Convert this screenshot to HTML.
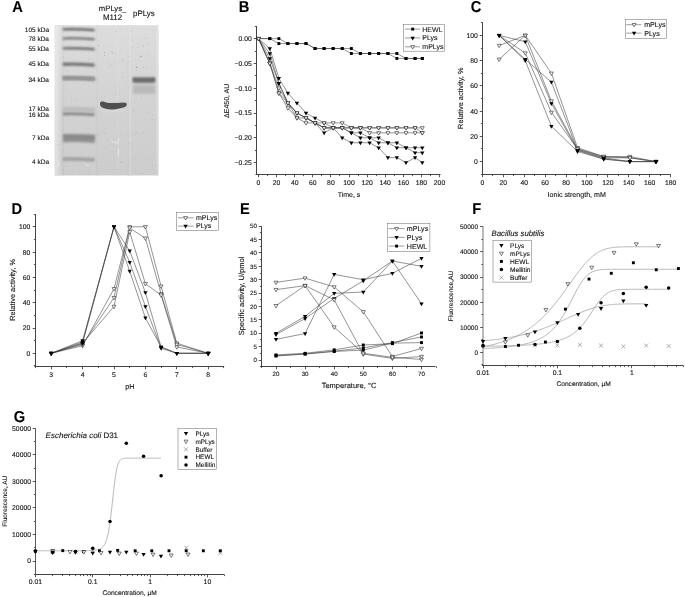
<!DOCTYPE html>
<html><head><meta charset="utf-8"><style>
html,body{margin:0;padding:0;background:#fff;}
svg{display:block;font-family:"Liberation Sans", sans-serif;will-change:transform;text-rendering:geometricPrecision;}
text{stroke:#111;stroke-width:0.1px;}
</style></head><body>
<svg width="685" height="597" viewBox="0 0 685 597">
<rect width="685" height="597" fill="#fff"/>
<defs><filter id="bl1" filterUnits="userSpaceOnUse" x="40" y="15" width="130" height="170"><feGaussianBlur stdDeviation="0.85"/></filter><filter id="bl2" filterUnits="userSpaceOnUse" x="40" y="15" width="130" height="170"><feGaussianBlur stdDeviation="1.3"/></filter><filter id="bl3" filterUnits="userSpaceOnUse" x="40" y="15" width="130" height="170"><feGaussianBlur stdDeviation="0.35"/></filter><filter id="bl4" filterUnits="userSpaceOnUse" x="40" y="15" width="130" height="170"><feGaussianBlur stdDeviation="0.55"/></filter><linearGradient id="gv" x1="0" y1="0" x2="0" y2="1"><stop offset="0" stop-color="#fff" stop-opacity="0.32"/><stop offset="0.5" stop-color="#fff" stop-opacity="0.12"/><stop offset="1" stop-color="#fff" stop-opacity="0"/></linearGradient></defs>
<rect x="54.8" y="25.3" width="103.5" height="150.2" fill="#cdcdcd"/>
<g filter="url(#bl3)">
<rect x="54.8" y="25.3" width="3.2" height="150.2" fill="#dddddd"/>
<rect x="58" y="25.3" width="2.5" height="150.2" fill="#d6d6d6"/>
<rect x="62.8" y="25.3" width="0.9" height="150.2" fill="#c4c4c4"/>
<rect x="66" y="25.3" width="0.6" height="150.2" fill="#cacaca"/>
<rect x="72" y="25.3" width="0.6" height="150.2" fill="#cbcbcb"/>
<rect x="80" y="25.3" width="0.6" height="150.2" fill="#cccccc"/>
<rect x="88" y="25.3" width="0.6" height="150.2" fill="#cacaca"/>
<rect x="96.5" y="25.3" width="1.2" height="150.2" fill="#c8c8c8"/>
<rect x="99" y="25.3" width="0.6" height="150.2" fill="#cccccc"/>
<rect x="117.5" y="25.3" width="0.8" height="150.2" fill="#d4d4d4"/>
<rect x="127.5" y="25.3" width="1.0" height="150.2" fill="#c9c9c9"/>
<rect x="129" y="25.3" width="2.0" height="150.2" fill="#d3d3d3"/>
<rect x="138" y="25.3" width="0.6" height="150.2" fill="#cdcdcd"/>
<rect x="156.3" y="25.3" width="2.0" height="150.2" fill="#d6d6d6"/>
</g>
<rect x="54.8" y="25.3" width="103.5" height="150.2" fill="url(#gv)"/>
<circle cx="88.87" cy="48.4" r="0.36" fill="#9a9a9a"/>
<circle cx="139.36" cy="39.98" r="0.35" fill="#b8b8b8"/>
<circle cx="77.79" cy="38.76" r="0.3" fill="#a4a4a4"/>
<circle cx="65.21" cy="89.04" r="0.41" fill="#9a9a9a"/>
<circle cx="152.17" cy="119.65" r="0.35" fill="#9a9a9a"/>
<circle cx="114.58" cy="84.91" r="0.44" fill="#9a9a9a"/>
<circle cx="112.5" cy="45.78" r="0.3" fill="#b8b8b8"/>
<circle cx="67.96" cy="71.81" r="0.4" fill="#a4a4a4"/>
<circle cx="66.46" cy="110.82" r="0.25" fill="#9a9a9a"/>
<circle cx="111.6" cy="35.32" r="0.21" fill="#a4a4a4"/>
<circle cx="106.39" cy="104.96" r="0.39" fill="#b0b0b0"/>
<circle cx="115.43" cy="93.3" r="0.27" fill="#a4a4a4"/>
<circle cx="126.95" cy="62.25" r="0.34" fill="#b8b8b8"/>
<circle cx="106.25" cy="77.01" r="0.31" fill="#b8b8b8"/>
<circle cx="155.49" cy="43.53" r="0.3" fill="#8c8c8c"/>
<circle cx="71.43" cy="98.61" r="0.21" fill="#9a9a9a"/>
<circle cx="133.6" cy="111.09" r="0.42" fill="#8c8c8c"/>
<circle cx="90.52" cy="78" r="0.32" fill="#b0b0b0"/>
<circle cx="62.98" cy="39.9" r="0.27" fill="#9a9a9a"/>
<circle cx="62.16" cy="130.17" r="0.36" fill="#b0b0b0"/>
<circle cx="84.89" cy="83.29" r="0.37" fill="#9a9a9a"/>
<circle cx="151.48" cy="78.79" r="0.35" fill="#b0b0b0"/>
<circle cx="61.98" cy="140.08" r="0.23" fill="#a4a4a4"/>
<circle cx="96.39" cy="162.15" r="0.32" fill="#a4a4a4"/>
<circle cx="101.59" cy="107.59" r="0.42" fill="#b0b0b0"/>
<circle cx="143.69" cy="67.35" r="0.3" fill="#8c8c8c"/>
<circle cx="125.3" cy="82.5" r="0.26" fill="#9a9a9a"/>
<circle cx="73.89" cy="60.45" r="0.26" fill="#b0b0b0"/>
<circle cx="140.36" cy="53.08" r="0.27" fill="#a4a4a4"/>
<circle cx="98.52" cy="80.83" r="0.34" fill="#a4a4a4"/>
<circle cx="126.09" cy="102.55" r="0.35" fill="#9a9a9a"/>
<circle cx="102.35" cy="155.34" r="0.44" fill="#b8b8b8"/>
<circle cx="95.83" cy="85.25" r="0.23" fill="#b0b0b0"/>
<circle cx="62.32" cy="36" r="0.25" fill="#a4a4a4"/>
<circle cx="67.16" cy="115.21" r="0.23" fill="#b8b8b8"/>
<circle cx="71.35" cy="41.07" r="0.29" fill="#9a9a9a"/>
<circle cx="63.14" cy="56.88" r="0.29" fill="#8c8c8c"/>
<circle cx="152.98" cy="115.44" r="0.32" fill="#9a9a9a"/>
<circle cx="142.17" cy="173.48" r="0.32" fill="#b0b0b0"/>
<circle cx="87.65" cy="47.4" r="0.39" fill="#8c8c8c"/>
<circle cx="104.58" cy="128.77" r="0.33" fill="#a4a4a4"/>
<circle cx="152.53" cy="104.45" r="0.24" fill="#b8b8b8"/>
<circle cx="148.79" cy="138.58" r="0.27" fill="#9a9a9a"/>
<circle cx="126.66" cy="64.78" r="0.29" fill="#a4a4a4"/>
<circle cx="92.1" cy="59.08" r="0.34" fill="#b8b8b8"/>
<circle cx="89.46" cy="59.12" r="0.4" fill="#a4a4a4"/>
<circle cx="137.82" cy="147.52" r="0.38" fill="#a4a4a4"/>
<circle cx="76.29" cy="99.18" r="0.38" fill="#9a9a9a"/>
<circle cx="136.2" cy="96.13" r="0.25" fill="#b8b8b8"/>
<circle cx="153.09" cy="92.41" r="0.43" fill="#8c8c8c"/>
<circle cx="152.93" cy="80.15" r="0.26" fill="#a4a4a4"/>
<circle cx="103.71" cy="76.15" r="0.32" fill="#b8b8b8"/>
<circle cx="141.3" cy="97.2" r="0.36" fill="#9a9a9a"/>
<circle cx="140.72" cy="43.81" r="0.3" fill="#a4a4a4"/>
<circle cx="104.52" cy="52.51" r="0.4" fill="#8c8c8c"/>
<circle cx="64.81" cy="166.51" r="0.38" fill="#b0b0b0"/>
<circle cx="96.74" cy="166.6" r="0.38" fill="#a4a4a4"/>
<circle cx="156.8" cy="30.09" r="0.35" fill="#b0b0b0"/>
<circle cx="137.86" cy="47.71" r="0.41" fill="#b0b0b0"/>
<circle cx="122.71" cy="78.04" r="0.34" fill="#a4a4a4"/>
<circle cx="58.17" cy="144.7" r="0.38" fill="#9a9a9a"/>
<circle cx="109.45" cy="164.64" r="0.31" fill="#a4a4a4"/>
<circle cx="139.85" cy="57.34" r="0.26" fill="#8c8c8c"/>
<circle cx="106.87" cy="139.41" r="0.28" fill="#b8b8b8"/>
<circle cx="98.53" cy="45.46" r="0.43" fill="#8c8c8c"/>
<circle cx="147.12" cy="124.38" r="0.4" fill="#b8b8b8"/>
<circle cx="98.69" cy="162.28" r="0.33" fill="#b8b8b8"/>
<circle cx="71.41" cy="101.82" r="0.42" fill="#a4a4a4"/>
<circle cx="117.77" cy="141.24" r="0.24" fill="#a4a4a4"/>
<circle cx="104.06" cy="133.69" r="0.34" fill="#8c8c8c"/>
<circle cx="125.26" cy="104.81" r="0.32" fill="#9a9a9a"/>
<circle cx="145.65" cy="34.44" r="0.25" fill="#9a9a9a"/>
<circle cx="134.38" cy="101.4" r="0.34" fill="#9a9a9a"/>
<circle cx="100.99" cy="116.96" r="0.33" fill="#b8b8b8"/>
<circle cx="76.24" cy="67.16" r="0.33" fill="#b0b0b0"/>
<circle cx="107.54" cy="62.78" r="0.33" fill="#8c8c8c"/>
<circle cx="149.66" cy="158.57" r="0.25" fill="#b0b0b0"/>
<circle cx="69.92" cy="44.06" r="0.31" fill="#9a9a9a"/>
<circle cx="124.12" cy="89.61" r="0.25" fill="#8c8c8c"/>
<circle cx="135.57" cy="159.21" r="0.24" fill="#8c8c8c"/>
<circle cx="70.51" cy="157.1" r="0.44" fill="#a4a4a4"/>
<circle cx="131.79" cy="39.98" r="0.42" fill="#a4a4a4"/>
<circle cx="156.47" cy="149.62" r="0.24" fill="#b0b0b0"/>
<circle cx="156.9" cy="85.97" r="0.31" fill="#8c8c8c"/>
<circle cx="88.33" cy="133.24" r="0.2" fill="#b8b8b8"/>
<circle cx="102.56" cy="130.42" r="0.3" fill="#b8b8b8"/>
<circle cx="119.33" cy="102.07" r="0.22" fill="#a4a4a4"/>
<circle cx="154.63" cy="41.56" r="0.27" fill="#9a9a9a"/>
<circle cx="147.95" cy="52.96" r="0.39" fill="#b0b0b0"/>
<circle cx="142.23" cy="126.38" r="0.44" fill="#b0b0b0"/>
<circle cx="106.04" cy="162.5" r="0.34" fill="#8c8c8c"/>
<circle cx="102.41" cy="34.54" r="0.37" fill="#b0b0b0"/>
<circle cx="151.16" cy="65.94" r="0.2" fill="#9a9a9a"/>
<circle cx="145.5" cy="38.44" r="0.41" fill="#9a9a9a"/>
<circle cx="113" cy="44.07" r="0.2" fill="#b8b8b8"/>
<circle cx="122.27" cy="161.94" r="0.36" fill="#9a9a9a"/>
<circle cx="128.88" cy="61.41" r="0.23" fill="#a4a4a4"/>
<circle cx="112.84" cy="52.9" r="0.43" fill="#8c8c8c"/>
<circle cx="129.13" cy="56.57" r="0.31" fill="#a4a4a4"/>
<circle cx="113.37" cy="145.35" r="0.45" fill="#9a9a9a"/>
<circle cx="97.93" cy="134.86" r="0.34" fill="#a4a4a4"/>
<circle cx="128.11" cy="62.48" r="0.31" fill="#b0b0b0"/>
<circle cx="136.72" cy="107.07" r="0.42" fill="#b8b8b8"/>
<circle cx="115.62" cy="57.95" r="0.26" fill="#a4a4a4"/>
<circle cx="147.35" cy="130.95" r="0.36" fill="#b0b0b0"/>
<circle cx="156.86" cy="171.81" r="0.41" fill="#9a9a9a"/>
<circle cx="101.28" cy="136.02" r="0.26" fill="#a4a4a4"/>
<circle cx="100.35" cy="124.79" r="0.3" fill="#b8b8b8"/>
<circle cx="137.57" cy="67.87" r="0.26" fill="#8c8c8c"/>
<circle cx="99.74" cy="53.52" r="0.27" fill="#9a9a9a"/>
<circle cx="112.93" cy="168.83" r="0.44" fill="#b8b8b8"/>
<circle cx="116.57" cy="31.12" r="0.42" fill="#a4a4a4"/>
<circle cx="118.57" cy="26.16" r="0.3" fill="#b0b0b0"/>
<circle cx="113.88" cy="123.42" r="0.26" fill="#9a9a9a"/>
<circle cx="102.5" cy="147.33" r="0.24" fill="#b8b8b8"/>
<circle cx="99.52" cy="29.34" r="0.28" fill="#a4a4a4"/>
<circle cx="102.11" cy="168.21" r="0.41" fill="#a4a4a4"/>
<circle cx="136.78" cy="132.33" r="0.42" fill="#b0b0b0"/>
<circle cx="143.24" cy="133.02" r="0.32" fill="#8c8c8c"/>
<circle cx="140.81" cy="121.52" r="0.21" fill="#b8b8b8"/>
<circle cx="134.95" cy="134.98" r="0.4" fill="#a4a4a4"/>
<circle cx="152.05" cy="137.8" r="0.34" fill="#9a9a9a"/>
<circle cx="147" cy="112.73" r="0.42" fill="#a4a4a4"/>
<circle cx="102.15" cy="32.22" r="0.36" fill="#9a9a9a"/>
<circle cx="119.79" cy="93.03" r="0.21" fill="#9a9a9a"/>
<circle cx="134.89" cy="127.08" r="0.32" fill="#9a9a9a"/>
<circle cx="124.65" cy="36.41" r="0.43" fill="#b8b8b8"/>
<circle cx="102.56" cy="104.11" r="0.39" fill="#b0b0b0"/>
<circle cx="112.26" cy="37.06" r="0.27" fill="#a4a4a4"/>
<circle cx="110.96" cy="122.51" r="0.32" fill="#b0b0b0"/>
<circle cx="101.64" cy="161.2" r="0.27" fill="#9a9a9a"/>
<circle cx="134.33" cy="121.45" r="0.22" fill="#a4a4a4"/>
<circle cx="117.07" cy="122.75" r="0.37" fill="#b8b8b8"/>
<circle cx="131.35" cy="27.85" r="0.22" fill="#8c8c8c"/>
<circle cx="155.84" cy="40.78" r="0.25" fill="#b0b0b0"/>
<circle cx="114.6" cy="102.71" r="0.32" fill="#b0b0b0"/>
<circle cx="143.41" cy="173.51" r="0.34" fill="#8c8c8c"/>
<circle cx="156.18" cy="165.03" r="0.2" fill="#b0b0b0"/>
<circle cx="101.63" cy="101.23" r="0.45" fill="#8c8c8c"/>
<circle cx="120.4" cy="162.11" r="0.43" fill="#9a9a9a"/>
<circle cx="132.18" cy="47.05" r="0.33" fill="#8c8c8c"/>
<circle cx="105.02" cy="147.8" r="0.33" fill="#9a9a9a"/>
<circle cx="139.55" cy="60.36" r="0.42" fill="#b0b0b0"/>
<circle cx="120.84" cy="49.62" r="0.44" fill="#b0b0b0"/>
<circle cx="121.53" cy="133.99" r="0.3" fill="#b0b0b0"/>
<circle cx="116.12" cy="150.77" r="0.2" fill="#8c8c8c"/>
<circle cx="147.77" cy="43.83" r="0.43" fill="#9a9a9a"/>
<circle cx="151.54" cy="69.04" r="0.29" fill="#b0b0b0"/>
<circle cx="120.6" cy="155.19" r="0.22" fill="#b0b0b0"/>
<circle cx="142.72" cy="152.86" r="0.27" fill="#9a9a9a"/>
<circle cx="147.5" cy="68.42" r="0.43" fill="#a4a4a4"/>
<circle cx="155.75" cy="90.78" r="0.28" fill="#8c8c8c"/>
<circle cx="144.5" cy="89.52" r="0.21" fill="#b0b0b0"/>
<circle cx="152.26" cy="165.69" r="0.34" fill="#9a9a9a"/>
<circle cx="99.99" cy="134.75" r="0.31" fill="#a4a4a4"/>
<circle cx="135.99" cy="68.5" r="0.21" fill="#b8b8b8"/>
<circle cx="104.7" cy="96.12" r="0.29" fill="#8c8c8c"/>
<circle cx="112.47" cy="135.7" r="0.36" fill="#b0b0b0"/>
<circle cx="136.69" cy="70.67" r="0.34" fill="#b0b0b0"/>
<circle cx="104.24" cy="121.52" r="0.22" fill="#b8b8b8"/>
<circle cx="151.81" cy="99.82" r="0.26" fill="#8c8c8c"/>
<circle cx="157.29" cy="92.82" r="0.23" fill="#a4a4a4"/>
<circle cx="111.77" cy="51.94" r="0.34" fill="#8c8c8c"/>
<circle cx="111.47" cy="64.37" r="0.34" fill="#9a9a9a"/>
<circle cx="142.35" cy="87.3" r="0.3" fill="#b8b8b8"/>
<circle cx="109.71" cy="66.13" r="0.39" fill="#b0b0b0"/>
<circle cx="113.79" cy="169.7" r="0.23" fill="#b8b8b8"/>
<circle cx="129.02" cy="143.36" r="0.41" fill="#9a9a9a"/>
<circle cx="113.4" cy="62.9" r="0.3" fill="#b0b0b0"/>
<circle cx="123.13" cy="72.33" r="0.4" fill="#9a9a9a"/>
<circle cx="141" cy="56.5" r="0.6" fill="#808080"/>
<circle cx="136.5" cy="67" r="0.5" fill="#808080"/>
<circle cx="123" cy="60" r="0.4" fill="#808080"/>
<circle cx="104.5" cy="55.5" r="0.4" fill="#808080"/>
<circle cx="131" cy="31" r="0.4" fill="#808080"/>
<circle cx="143.5" cy="46" r="0.4" fill="#808080"/>
<g filter="url(#bl3)" stroke="#e6e6e6" stroke-width="0.9" fill="none" stroke-linecap="round"><path d="M111,140.5 L114,143 L116.5,141.5 L118,144"/><path d="M119,137.5 L118.2,142"/><path d="M118.5,149 L118.3,156"/><path d="M85,163 L87,166 L89,165"/><path d="M58,160 L58.5,166"/></g>
<g filter="url(#bl1)">
<path d="M62.8,29.3 Q78,28.8 94.6,30.1" stroke="#5e5e5e" stroke-width="2.2" fill="none"/>
<path d="M62.8,38.4 Q78,37.9 94.6,39.2" stroke="#686868" stroke-width="2.0" fill="none"/>
<path d="M62.8,48.4 Q78,47.9 94.6,49.2" stroke="#6e6e6e" stroke-width="2.4" fill="none"/>
<path d="M62.8,64.3 Q78,63.8 94.6,65.1" stroke="#737373" stroke-width="3.4" fill="none"/>
<path d="M62.8,78.1 Q78,77.6 94.6,78.9" stroke="#808080" stroke-width="3.6" fill="none"/>
<path d="M62.8,113.8 Q78,113.3 94.6,114.6" stroke="#8c8c8c" stroke-width="3.4" fill="none"/>
<path d="M62.8,159.1 Q78,158.6 94.6,159.9" stroke="#a0a0a0" stroke-width="3.6" fill="none"/>
</g>
<g filter="url(#bl2)">
<path d="M63,109.4 Q78,108.8 95,109.8" stroke="#bcbcbc" stroke-width="4.5" fill="none"/>
<path d="M63,138.2 Q78,137.6 95,138.8" stroke="#909090" stroke-width="8.2" fill="none"/>
<path d="M63,137.0 Q78,136.4 95,137.6" stroke="#888" stroke-width="3" fill="none"/>
<path d="M63,78.6 Q78,78 95,79" stroke="#9a9a9a" stroke-width="3" fill="none"/>
<path d="M133,89.3 Q144,89.8 155,89.3" stroke="#bababa" stroke-width="8.5" fill="none"/>
<path d="M133,80.0 Q144,80.4 155,80.0" stroke="#929292" stroke-width="6" fill="none"/>
<path d="M102,104.8 C108,106.4 118,106.2 124.5,104.8" stroke="#a8a8a8" stroke-width="4.5" fill="none"/>
<path d="M103,109.5 C108,111.2 116,111.2 124,108.8" stroke="#dedede" stroke-width="1.6" fill="none"/>
</g>
<g filter="url(#bl1)">
<path d="M132.8,79.8 Q144,80.2 155,79.8" stroke="#666" stroke-width="3.4" fill="none"/>
</g>
<g filter="url(#bl4)">
<path d="M100.0,103.6 C100.0,101.4 102.0,100.9 104.5,101.9 C107.5,103.0 112,103.3 117,103.0 C121,102.8 124.5,102.4 126.0,102.9 C127.2,103.6 127.0,105.8 125.3,106.7 C121.8,108.0 117,109.2 112,109.4 C107.5,109.5 104,108.6 101.8,107.3 C100.6,106.5 100.0,105.2 100.0,103.6 Z" fill="#505050"/>
</g>
<text x="49" y="32.1" font-size="6.5" text-anchor="end" font-weight="normal" font-style="normal" fill="#111">105 kDa</text>
<text x="49" y="41.2" font-size="6.5" text-anchor="end" font-weight="normal" font-style="normal" fill="#111">78 kDa</text>
<text x="49" y="51.3" font-size="6.5" text-anchor="end" font-weight="normal" font-style="normal" fill="#111">55 kDa</text>
<text x="49" y="66.4" font-size="6.5" text-anchor="end" font-weight="normal" font-style="normal" fill="#111">45 kDa</text>
<text x="49" y="81.8" font-size="6.5" text-anchor="end" font-weight="normal" font-style="normal" fill="#111">34 kDa</text>
<text x="49" y="111" font-size="6.5" text-anchor="end" font-weight="normal" font-style="normal" fill="#111">17 kDa</text>
<text x="49" y="116.7" font-size="6.5" text-anchor="end" font-weight="normal" font-style="normal" fill="#111">16 kDa</text>
<text x="49" y="140.2" font-size="6.5" text-anchor="end" font-weight="normal" font-style="normal" fill="#111">7 kDa</text>
<text x="49" y="163.8" font-size="6.5" text-anchor="end" font-weight="normal" font-style="normal" fill="#111">4 kDa</text>
<text x="112.6" y="10.7" font-size="7.7" text-anchor="middle" font-weight="normal" font-style="normal" fill="#111">mPLys_</text>
<text x="112.5" y="19.6" font-size="7.9" text-anchor="middle" font-weight="normal" font-style="normal" fill="#111">M112</text>
<text x="143.9" y="15.8" font-size="7.9" text-anchor="middle" font-weight="normal" font-style="normal" fill="#111">pPLys</text>
<text transform="translate(12.13 12) scale(0.93 1)" font-size="15.8" font-weight="bold" fill="#000">A</text>
<text transform="translate(238.72 12) scale(0.93 1)" font-size="15.8" font-weight="bold" fill="#000">B</text>
<text transform="translate(470.8 12) scale(0.93 1)" font-size="15.8" font-weight="bold" fill="#000">C</text>
<text transform="translate(11.42 213.6) scale(0.93 1)" font-size="15.8" font-weight="bold" fill="#000">D</text>
<text transform="translate(240.02 213.6) scale(0.93 1)" font-size="15.8" font-weight="bold" fill="#000">E</text>
<text transform="translate(472.22 213.6) scale(0.93 1)" font-size="15.8" font-weight="bold" fill="#000">F</text>
<text transform="translate(13.7 422.2) scale(0.93 1)" font-size="15.8" font-weight="bold" fill="#000">G</text>
<line x1="256.5" y1="26" x2="256.5" y2="175" stroke="#444" stroke-width="1.0"/>
<line x1="255.5" y1="174.5" x2="440.5" y2="174.5" stroke="#444" stroke-width="1.0"/>
<line x1="253.7" y1="38.5" x2="256.5" y2="38.5" stroke="#444" stroke-width="0.9"/>
<text x="251.8" y="41.05" font-size="6.8" text-anchor="end" font-weight="normal" font-style="normal" fill="#111">0.00</text>
<line x1="253.7" y1="63.5" x2="256.5" y2="63.5" stroke="#444" stroke-width="0.9"/>
<text x="251.8" y="65.85" font-size="6.8" text-anchor="end" font-weight="normal" font-style="normal" fill="#111">&#8722;0.05</text>
<line x1="253.7" y1="88.5" x2="256.5" y2="88.5" stroke="#444" stroke-width="0.9"/>
<text x="251.8" y="90.65" font-size="6.8" text-anchor="end" font-weight="normal" font-style="normal" fill="#111">&#8722;0.10</text>
<line x1="253.7" y1="113.5" x2="256.5" y2="113.5" stroke="#444" stroke-width="0.9"/>
<text x="251.8" y="115.45" font-size="6.8" text-anchor="end" font-weight="normal" font-style="normal" fill="#111">&#8722;0.15</text>
<line x1="253.7" y1="137.5" x2="256.5" y2="137.5" stroke="#444" stroke-width="0.9"/>
<text x="251.8" y="140.25" font-size="6.8" text-anchor="end" font-weight="normal" font-style="normal" fill="#111">&#8722;0.20</text>
<line x1="253.7" y1="162.5" x2="256.5" y2="162.5" stroke="#444" stroke-width="0.9"/>
<text x="251.8" y="165.05" font-size="6.8" text-anchor="end" font-weight="normal" font-style="normal" fill="#111">&#8722;0.25</text>
<line x1="254.9" y1="26.5" x2="256.5" y2="26.5" stroke="#444" stroke-width="0.9"/>
<line x1="254.9" y1="51.5" x2="256.5" y2="51.5" stroke="#444" stroke-width="0.9"/>
<line x1="254.9" y1="75.5" x2="256.5" y2="75.5" stroke="#444" stroke-width="0.9"/>
<line x1="254.9" y1="100.5" x2="256.5" y2="100.5" stroke="#444" stroke-width="0.9"/>
<line x1="254.9" y1="125.5" x2="256.5" y2="125.5" stroke="#444" stroke-width="0.9"/>
<line x1="254.9" y1="150.5" x2="256.5" y2="150.5" stroke="#444" stroke-width="0.9"/>
<line x1="258.5" y1="174.5" x2="258.5" y2="177.3" stroke="#444" stroke-width="0.9"/>
<text x="258.5" y="185.2" font-size="6.8" text-anchor="middle" font-weight="normal" font-style="normal" fill="#111">0</text>
<line x1="276.5" y1="174.5" x2="276.5" y2="177.3" stroke="#444" stroke-width="0.9"/>
<text x="276.6" y="185.2" font-size="6.8" text-anchor="middle" font-weight="normal" font-style="normal" fill="#111">20</text>
<line x1="294.5" y1="174.5" x2="294.5" y2="177.3" stroke="#444" stroke-width="0.9"/>
<text x="294.7" y="185.2" font-size="6.8" text-anchor="middle" font-weight="normal" font-style="normal" fill="#111">40</text>
<line x1="312.5" y1="174.5" x2="312.5" y2="177.3" stroke="#444" stroke-width="0.9"/>
<text x="312.8" y="185.2" font-size="6.8" text-anchor="middle" font-weight="normal" font-style="normal" fill="#111">60</text>
<line x1="330.5" y1="174.5" x2="330.5" y2="177.3" stroke="#444" stroke-width="0.9"/>
<text x="330.9" y="185.2" font-size="6.8" text-anchor="middle" font-weight="normal" font-style="normal" fill="#111">80</text>
<line x1="349.5" y1="174.5" x2="349.5" y2="177.3" stroke="#444" stroke-width="0.9"/>
<text x="349" y="185.2" font-size="6.8" text-anchor="middle" font-weight="normal" font-style="normal" fill="#111">100</text>
<line x1="367.5" y1="174.5" x2="367.5" y2="177.3" stroke="#444" stroke-width="0.9"/>
<text x="367.1" y="185.2" font-size="6.8" text-anchor="middle" font-weight="normal" font-style="normal" fill="#111">120</text>
<line x1="385.5" y1="174.5" x2="385.5" y2="177.3" stroke="#444" stroke-width="0.9"/>
<text x="385.2" y="185.2" font-size="6.8" text-anchor="middle" font-weight="normal" font-style="normal" fill="#111">140</text>
<line x1="403.5" y1="174.5" x2="403.5" y2="177.3" stroke="#444" stroke-width="0.9"/>
<text x="403.3" y="185.2" font-size="6.8" text-anchor="middle" font-weight="normal" font-style="normal" fill="#111">160</text>
<line x1="421.5" y1="174.5" x2="421.5" y2="177.3" stroke="#444" stroke-width="0.9"/>
<text x="421.4" y="185.2" font-size="6.8" text-anchor="middle" font-weight="normal" font-style="normal" fill="#111">180</text>
<line x1="439.5" y1="174.5" x2="439.5" y2="177.3" stroke="#444" stroke-width="0.9"/>
<text x="439.5" y="185.2" font-size="6.8" text-anchor="middle" font-weight="normal" font-style="normal" fill="#111">200</text>
<line x1="267.5" y1="174.5" x2="267.5" y2="176.1" stroke="#444" stroke-width="0.9"/>
<line x1="285.5" y1="174.5" x2="285.5" y2="176.1" stroke="#444" stroke-width="0.9"/>
<line x1="303.5" y1="174.5" x2="303.5" y2="176.1" stroke="#444" stroke-width="0.9"/>
<line x1="321.5" y1="174.5" x2="321.5" y2="176.1" stroke="#444" stroke-width="0.9"/>
<line x1="339.5" y1="174.5" x2="339.5" y2="176.1" stroke="#444" stroke-width="0.9"/>
<line x1="358.5" y1="174.5" x2="358.5" y2="176.1" stroke="#444" stroke-width="0.9"/>
<line x1="376.5" y1="174.5" x2="376.5" y2="176.1" stroke="#444" stroke-width="0.9"/>
<line x1="394.5" y1="174.5" x2="394.5" y2="176.1" stroke="#444" stroke-width="0.9"/>
<line x1="412.5" y1="174.5" x2="412.5" y2="176.1" stroke="#444" stroke-width="0.9"/>
<line x1="430.5" y1="174.5" x2="430.5" y2="176.1" stroke="#444" stroke-width="0.9"/>
<text x="349" y="196.6" font-size="7" text-anchor="middle" font-weight="normal" font-style="normal" fill="#111">Time, s</text>
<text x="229.2" y="100.8" font-size="7" text-anchor="middle" font-weight="normal" font-style="normal" fill="#111" transform="rotate(-90 229.2 100.8)">&#916;E450, AU</text>
<polyline points="258.5,38.6 269.81,38.6 278.86,38.6 287.91,43.56 296.96,43.56 306.01,43.56 315.06,48.52 324.11,48.52 333.16,48.52 342.21,48.52 351.35,48.52 360.4,53.48 369.63,53.48 378.68,53.48 387.91,53.48 396.87,53.48 406.01,58.44 415.06,58.44 422.31,58.44" fill="none" stroke="#3a3a3a" stroke-width="0.55"/>
<polyline points="258.5,38.6 269.81,38.6 278.86,43.56 287.91,43.56 296.96,43.56 306.01,43.56 315.06,48.52 324.11,48.52 333.16,48.52 342.21,48.52 351.35,53.48 360.4,53.48 369.63,53.48 378.68,53.48 387.91,53.48 396.87,58.44 406.01,58.44 415.06,58.44 422.31,58.44" fill="none" stroke="#3a3a3a" stroke-width="0.55"/>
<polyline points="258.5,38.6 269.81,63.4 278.86,93.16 287.91,103.08 296.96,113 306.01,117.96 315.06,122.92 324.11,122.92 333.16,122.92 342.21,122.92 351.35,127.88 360.4,127.88 369.63,127.88 378.68,127.88 387.91,127.88 396.87,127.88 406.01,127.88 415.06,127.88 422.31,127.88" fill="none" stroke="#3a3a3a" stroke-width="0.55"/>
<polyline points="258.5,38.6 269.81,63.4 278.86,93.16 287.91,108.04 296.96,117.96 306.01,122.92 315.06,122.92 324.11,127.88 333.16,127.88 342.21,127.88 351.35,127.88 360.4,127.88 369.63,127.88 378.68,127.88 387.91,127.88 396.87,127.88 406.01,127.88 415.06,127.88 422.31,132.84" fill="none" stroke="#3a3a3a" stroke-width="0.55"/>
<polyline points="258.5,38.6 269.81,63.4 278.86,88.2 287.91,103.08 296.96,117.96 306.01,117.96 315.06,122.92 324.11,127.88 333.16,127.88 342.21,127.88 351.35,127.88 360.4,127.88 369.63,132.84 378.68,132.84 387.91,132.84 396.87,132.84 406.01,132.84 415.06,132.84 422.31,132.84" fill="none" stroke="#3a3a3a" stroke-width="0.55"/>
<polyline points="258.5,38.6 269.81,48.52 278.86,78.28 287.91,93.16 296.96,103.08 306.01,113 315.06,117.96 324.11,122.92 333.16,127.88 342.21,127.88 351.35,132.84 360.4,132.84 369.63,137.8 378.68,137.8 387.91,142.76 396.87,142.76 406.01,147.72 415.06,147.72 422.31,147.72" fill="none" stroke="#3a3a3a" stroke-width="0.55"/>
<polyline points="258.5,38.6 269.81,53.48 278.86,83.24 287.91,103.08 296.96,113 306.01,117.96 315.06,122.92 324.11,132.84 333.16,127.88 342.21,137.8 351.35,142.76 360.4,142.76 369.63,142.76 378.68,147.72 387.91,157.64 396.87,157.64 406.01,162.6 415.06,157.64 422.31,162.6" fill="none" stroke="#3a3a3a" stroke-width="0.55"/>
<polyline points="258.5,38.6 269.81,58.44 278.86,83.24 287.91,103.08 296.96,113 306.01,117.96 315.06,122.92 324.11,127.88 333.16,127.88 342.21,127.88 351.35,132.84 360.4,137.8 369.63,137.8 378.68,142.76 387.91,142.76 396.87,147.72 406.01,147.72 415.06,152.68 422.31,152.68" fill="none" stroke="#3a3a3a" stroke-width="0.55"/>
<rect x="257.05" y="37.15" width="2.9" height="2.9" fill="#000"/>
<rect x="268.36" y="37.15" width="2.9" height="2.9" fill="#000"/>
<rect x="277.41" y="37.15" width="2.9" height="2.9" fill="#000"/>
<rect x="286.46" y="42.11" width="2.9" height="2.9" fill="#000"/>
<rect x="295.51" y="42.11" width="2.9" height="2.9" fill="#000"/>
<rect x="304.56" y="42.11" width="2.9" height="2.9" fill="#000"/>
<rect x="313.61" y="47.07" width="2.9" height="2.9" fill="#000"/>
<rect x="322.66" y="47.07" width="2.9" height="2.9" fill="#000"/>
<rect x="331.71" y="47.07" width="2.9" height="2.9" fill="#000"/>
<rect x="340.76" y="47.07" width="2.9" height="2.9" fill="#000"/>
<rect x="349.9" y="47.07" width="2.9" height="2.9" fill="#000"/>
<rect x="358.95" y="52.03" width="2.9" height="2.9" fill="#000"/>
<rect x="368.18" y="52.03" width="2.9" height="2.9" fill="#000"/>
<rect x="377.23" y="52.03" width="2.9" height="2.9" fill="#000"/>
<rect x="386.46" y="52.03" width="2.9" height="2.9" fill="#000"/>
<rect x="395.42" y="52.03" width="2.9" height="2.9" fill="#000"/>
<rect x="404.56" y="56.99" width="2.9" height="2.9" fill="#000"/>
<rect x="413.62" y="56.99" width="2.9" height="2.9" fill="#000"/>
<rect x="420.86" y="56.99" width="2.9" height="2.9" fill="#000"/>
<rect x="257.05" y="37.15" width="2.9" height="2.9" fill="#000"/>
<rect x="268.36" y="37.15" width="2.9" height="2.9" fill="#000"/>
<rect x="277.41" y="42.11" width="2.9" height="2.9" fill="#000"/>
<rect x="286.46" y="42.11" width="2.9" height="2.9" fill="#000"/>
<rect x="295.51" y="42.11" width="2.9" height="2.9" fill="#000"/>
<rect x="304.56" y="42.11" width="2.9" height="2.9" fill="#000"/>
<rect x="313.61" y="47.07" width="2.9" height="2.9" fill="#000"/>
<rect x="322.66" y="47.07" width="2.9" height="2.9" fill="#000"/>
<rect x="331.71" y="47.07" width="2.9" height="2.9" fill="#000"/>
<rect x="340.76" y="47.07" width="2.9" height="2.9" fill="#000"/>
<rect x="349.9" y="52.03" width="2.9" height="2.9" fill="#000"/>
<rect x="358.95" y="52.03" width="2.9" height="2.9" fill="#000"/>
<rect x="368.18" y="52.03" width="2.9" height="2.9" fill="#000"/>
<rect x="377.23" y="52.03" width="2.9" height="2.9" fill="#000"/>
<rect x="386.46" y="52.03" width="2.9" height="2.9" fill="#000"/>
<rect x="395.42" y="56.99" width="2.9" height="2.9" fill="#000"/>
<rect x="404.56" y="56.99" width="2.9" height="2.9" fill="#000"/>
<rect x="413.62" y="56.99" width="2.9" height="2.9" fill="#000"/>
<rect x="420.86" y="56.99" width="2.9" height="2.9" fill="#000"/>
<path d="M256.35,37.31H260.65L258.5,41.07Z" fill="#000"/>
<path d="M267.66,47.23H271.96L269.81,50.99Z" fill="#000"/>
<path d="M276.71,76.99H281.01L278.86,80.75Z" fill="#000"/>
<path d="M285.76,91.87H290.06L287.91,95.63Z" fill="#000"/>
<path d="M294.81,101.79H299.11L296.96,105.55Z" fill="#000"/>
<path d="M303.86,111.71H308.16L306.01,115.47Z" fill="#000"/>
<path d="M312.91,116.67H317.21L315.06,120.43Z" fill="#000"/>
<path d="M321.96,121.63H326.26L324.11,125.39Z" fill="#000"/>
<path d="M331.01,126.59H335.31L333.16,130.35Z" fill="#000"/>
<path d="M340.06,126.59H344.36L342.21,130.35Z" fill="#000"/>
<path d="M349.2,131.55H353.5L351.35,135.31Z" fill="#000"/>
<path d="M358.25,131.55H362.55L360.4,135.31Z" fill="#000"/>
<path d="M367.48,136.51H371.78L369.63,140.27Z" fill="#000"/>
<path d="M376.53,136.51H380.83L378.68,140.27Z" fill="#000"/>
<path d="M385.76,141.47H390.06L387.91,145.23Z" fill="#000"/>
<path d="M394.72,141.47H399.02L396.87,145.23Z" fill="#000"/>
<path d="M403.87,146.43H408.16L406.01,150.19Z" fill="#000"/>
<path d="M412.92,146.43H417.21L415.06,150.19Z" fill="#000"/>
<path d="M420.16,146.43H424.45L422.31,150.19Z" fill="#000"/>
<path d="M256.35,37.31H260.65L258.5,41.07Z" fill="#000"/>
<path d="M267.66,52.19H271.96L269.81,55.95Z" fill="#000"/>
<path d="M276.71,81.95H281.01L278.86,85.71Z" fill="#000"/>
<path d="M285.76,101.79H290.06L287.91,105.55Z" fill="#000"/>
<path d="M294.81,111.71H299.11L296.96,115.47Z" fill="#000"/>
<path d="M303.86,116.67H308.16L306.01,120.43Z" fill="#000"/>
<path d="M312.91,121.63H317.21L315.06,125.39Z" fill="#000"/>
<path d="M321.96,131.55H326.26L324.11,135.31Z" fill="#000"/>
<path d="M331.01,126.59H335.31L333.16,130.35Z" fill="#000"/>
<path d="M340.06,136.51H344.36L342.21,140.27Z" fill="#000"/>
<path d="M349.2,141.47H353.5L351.35,145.23Z" fill="#000"/>
<path d="M358.25,141.47H362.55L360.4,145.23Z" fill="#000"/>
<path d="M367.48,141.47H371.78L369.63,145.23Z" fill="#000"/>
<path d="M376.53,146.43H380.83L378.68,150.19Z" fill="#000"/>
<path d="M385.76,156.35H390.06L387.91,160.11Z" fill="#000"/>
<path d="M394.72,156.35H399.02L396.87,160.11Z" fill="#000"/>
<path d="M403.87,161.31H408.16L406.01,165.07Z" fill="#000"/>
<path d="M412.92,156.35H417.21L415.06,160.11Z" fill="#000"/>
<path d="M420.16,161.31H424.45L422.31,165.07Z" fill="#000"/>
<path d="M256.35,37.31H260.65L258.5,41.07Z" fill="#000"/>
<path d="M267.66,57.15H271.96L269.81,60.91Z" fill="#000"/>
<path d="M276.71,81.95H281.01L278.86,85.71Z" fill="#000"/>
<path d="M285.76,101.79H290.06L287.91,105.55Z" fill="#000"/>
<path d="M294.81,111.71H299.11L296.96,115.47Z" fill="#000"/>
<path d="M303.86,116.67H308.16L306.01,120.43Z" fill="#000"/>
<path d="M312.91,121.63H317.21L315.06,125.39Z" fill="#000"/>
<path d="M321.96,126.59H326.26L324.11,130.35Z" fill="#000"/>
<path d="M331.01,126.59H335.31L333.16,130.35Z" fill="#000"/>
<path d="M340.06,126.59H344.36L342.21,130.35Z" fill="#000"/>
<path d="M349.2,131.55H353.5L351.35,135.31Z" fill="#000"/>
<path d="M358.25,136.51H362.55L360.4,140.27Z" fill="#000"/>
<path d="M367.48,136.51H371.78L369.63,140.27Z" fill="#000"/>
<path d="M376.53,141.47H380.83L378.68,145.23Z" fill="#000"/>
<path d="M385.76,141.47H390.06L387.91,145.23Z" fill="#000"/>
<path d="M394.72,146.43H399.02L396.87,150.19Z" fill="#000"/>
<path d="M403.87,146.43H408.16L406.01,150.19Z" fill="#000"/>
<path d="M412.92,151.39H417.21L415.06,155.15Z" fill="#000"/>
<path d="M420.16,151.39H424.45L422.31,155.15Z" fill="#000"/>
<path d="M256.55,37.39H260.45L258.5,40.8Z" fill="#fff" stroke="#111" stroke-width="0.55"/>
<path d="M267.86,62.19H271.76L269.81,65.6Z" fill="#fff" stroke="#111" stroke-width="0.55"/>
<path d="M276.91,91.95H280.81L278.86,95.36Z" fill="#fff" stroke="#111" stroke-width="0.55"/>
<path d="M285.96,101.87H289.86L287.91,105.28Z" fill="#fff" stroke="#111" stroke-width="0.55"/>
<path d="M295.01,111.79H298.91L296.96,115.2Z" fill="#fff" stroke="#111" stroke-width="0.55"/>
<path d="M304.06,116.75H307.96L306.01,120.16Z" fill="#fff" stroke="#111" stroke-width="0.55"/>
<path d="M313.11,121.71H317.01L315.06,125.12Z" fill="#fff" stroke="#111" stroke-width="0.55"/>
<path d="M322.16,121.71H326.06L324.11,125.12Z" fill="#fff" stroke="#111" stroke-width="0.55"/>
<path d="M331.21,121.71H335.11L333.16,125.12Z" fill="#fff" stroke="#111" stroke-width="0.55"/>
<path d="M340.26,121.71H344.16L342.21,125.12Z" fill="#fff" stroke="#111" stroke-width="0.55"/>
<path d="M349.4,126.67H353.3L351.35,130.08Z" fill="#fff" stroke="#111" stroke-width="0.55"/>
<path d="M358.45,126.67H362.35L360.4,130.08Z" fill="#fff" stroke="#111" stroke-width="0.55"/>
<path d="M367.68,126.67H371.58L369.63,130.08Z" fill="#fff" stroke="#111" stroke-width="0.55"/>
<path d="M376.73,126.67H380.63L378.68,130.08Z" fill="#fff" stroke="#111" stroke-width="0.55"/>
<path d="M385.96,126.67H389.86L387.91,130.08Z" fill="#fff" stroke="#111" stroke-width="0.55"/>
<path d="M394.92,126.67H398.82L396.87,130.08Z" fill="#fff" stroke="#111" stroke-width="0.55"/>
<path d="M404.06,126.67H407.96L406.01,130.08Z" fill="#fff" stroke="#111" stroke-width="0.55"/>
<path d="M413.12,126.67H417.01L415.06,130.08Z" fill="#fff" stroke="#111" stroke-width="0.55"/>
<path d="M420.36,126.67H424.25L422.31,130.08Z" fill="#fff" stroke="#111" stroke-width="0.55"/>
<path d="M256.55,37.39H260.45L258.5,40.8Z" fill="#fff" stroke="#111" stroke-width="0.55"/>
<path d="M267.86,62.19H271.76L269.81,65.6Z" fill="#fff" stroke="#111" stroke-width="0.55"/>
<path d="M276.91,91.95H280.81L278.86,95.36Z" fill="#fff" stroke="#111" stroke-width="0.55"/>
<path d="M285.96,106.83H289.86L287.91,110.24Z" fill="#fff" stroke="#111" stroke-width="0.55"/>
<path d="M295.01,116.75H298.91L296.96,120.16Z" fill="#fff" stroke="#111" stroke-width="0.55"/>
<path d="M304.06,121.71H307.96L306.01,125.12Z" fill="#fff" stroke="#111" stroke-width="0.55"/>
<path d="M313.11,121.71H317.01L315.06,125.12Z" fill="#fff" stroke="#111" stroke-width="0.55"/>
<path d="M322.16,126.67H326.06L324.11,130.08Z" fill="#fff" stroke="#111" stroke-width="0.55"/>
<path d="M331.21,126.67H335.11L333.16,130.08Z" fill="#fff" stroke="#111" stroke-width="0.55"/>
<path d="M340.26,126.67H344.16L342.21,130.08Z" fill="#fff" stroke="#111" stroke-width="0.55"/>
<path d="M349.4,126.67H353.3L351.35,130.08Z" fill="#fff" stroke="#111" stroke-width="0.55"/>
<path d="M358.45,126.67H362.35L360.4,130.08Z" fill="#fff" stroke="#111" stroke-width="0.55"/>
<path d="M367.68,126.67H371.58L369.63,130.08Z" fill="#fff" stroke="#111" stroke-width="0.55"/>
<path d="M376.73,126.67H380.63L378.68,130.08Z" fill="#fff" stroke="#111" stroke-width="0.55"/>
<path d="M385.96,126.67H389.86L387.91,130.08Z" fill="#fff" stroke="#111" stroke-width="0.55"/>
<path d="M394.92,126.67H398.82L396.87,130.08Z" fill="#fff" stroke="#111" stroke-width="0.55"/>
<path d="M404.06,126.67H407.96L406.01,130.08Z" fill="#fff" stroke="#111" stroke-width="0.55"/>
<path d="M413.12,126.67H417.01L415.06,130.08Z" fill="#fff" stroke="#111" stroke-width="0.55"/>
<path d="M420.36,131.63H424.25L422.31,135.04Z" fill="#fff" stroke="#111" stroke-width="0.55"/>
<path d="M256.55,37.39H260.45L258.5,40.8Z" fill="#fff" stroke="#111" stroke-width="0.55"/>
<path d="M267.86,62.19H271.76L269.81,65.6Z" fill="#fff" stroke="#111" stroke-width="0.55"/>
<path d="M276.91,86.99H280.81L278.86,90.4Z" fill="#fff" stroke="#111" stroke-width="0.55"/>
<path d="M285.96,101.87H289.86L287.91,105.28Z" fill="#fff" stroke="#111" stroke-width="0.55"/>
<path d="M295.01,116.75H298.91L296.96,120.16Z" fill="#fff" stroke="#111" stroke-width="0.55"/>
<path d="M304.06,116.75H307.96L306.01,120.16Z" fill="#fff" stroke="#111" stroke-width="0.55"/>
<path d="M313.11,121.71H317.01L315.06,125.12Z" fill="#fff" stroke="#111" stroke-width="0.55"/>
<path d="M322.16,126.67H326.06L324.11,130.08Z" fill="#fff" stroke="#111" stroke-width="0.55"/>
<path d="M331.21,126.67H335.11L333.16,130.08Z" fill="#fff" stroke="#111" stroke-width="0.55"/>
<path d="M340.26,126.67H344.16L342.21,130.08Z" fill="#fff" stroke="#111" stroke-width="0.55"/>
<path d="M349.4,126.67H353.3L351.35,130.08Z" fill="#fff" stroke="#111" stroke-width="0.55"/>
<path d="M358.45,126.67H362.35L360.4,130.08Z" fill="#fff" stroke="#111" stroke-width="0.55"/>
<path d="M367.68,131.63H371.58L369.63,135.04Z" fill="#fff" stroke="#111" stroke-width="0.55"/>
<path d="M376.73,131.63H380.63L378.68,135.04Z" fill="#fff" stroke="#111" stroke-width="0.55"/>
<path d="M385.96,131.63H389.86L387.91,135.04Z" fill="#fff" stroke="#111" stroke-width="0.55"/>
<path d="M394.92,131.63H398.82L396.87,135.04Z" fill="#fff" stroke="#111" stroke-width="0.55"/>
<path d="M404.06,131.63H407.96L406.01,135.04Z" fill="#fff" stroke="#111" stroke-width="0.55"/>
<path d="M413.12,131.63H417.01L415.06,135.04Z" fill="#fff" stroke="#111" stroke-width="0.55"/>
<path d="M420.36,131.63H424.25L422.31,135.04Z" fill="#fff" stroke="#111" stroke-width="0.55"/>
<rect x="403.6" y="24.4" width="41.1" height="26.8" fill="#fff" stroke="#666" stroke-width="0.5"/>
<line x1="405" y1="29.1" x2="420.2" y2="29.1" stroke="#3a3a3a" stroke-width="0.5"/>
<rect x="411.25" y="27.65" width="2.9" height="2.9" fill="#000"/>
<text x="422.3" y="31.6" font-size="7" text-anchor="start" font-weight="normal" font-style="normal" fill="#111">HEWL</text>
<line x1="405" y1="37.95" x2="420.2" y2="37.95" stroke="#3a3a3a" stroke-width="0.5"/>
<path d="M410.55,36.66H414.85L412.7,40.42Z" fill="#000"/>
<text x="422.3" y="40.45" font-size="7" text-anchor="start" font-weight="normal" font-style="normal" fill="#111">PLys</text>
<line x1="405" y1="46.8" x2="420.2" y2="46.8" stroke="#3a3a3a" stroke-width="0.5"/>
<path d="M410.75,45.59H414.65L412.7,49Z" fill="#fff" stroke="#111" stroke-width="0.55"/>
<text x="422.3" y="49.3" font-size="7" text-anchor="start" font-weight="normal" font-style="normal" fill="#111">mPLys</text>
<line x1="482.5" y1="22.3" x2="482.5" y2="175" stroke="#444" stroke-width="1.0"/>
<line x1="481.5" y1="174.5" x2="670.7" y2="174.5" stroke="#444" stroke-width="1.0"/>
<line x1="479.7" y1="161.5" x2="482.5" y2="161.5" stroke="#444" stroke-width="0.9"/>
<text x="477.8" y="164.05" font-size="6.8" text-anchor="end" font-weight="normal" font-style="normal" fill="#111">0</text>
<line x1="479.7" y1="136.5" x2="482.5" y2="136.5" stroke="#444" stroke-width="0.9"/>
<text x="477.8" y="138.81" font-size="6.8" text-anchor="end" font-weight="normal" font-style="normal" fill="#111">20</text>
<line x1="479.7" y1="111.5" x2="482.5" y2="111.5" stroke="#444" stroke-width="0.9"/>
<text x="477.8" y="113.57" font-size="6.8" text-anchor="end" font-weight="normal" font-style="normal" fill="#111">40</text>
<line x1="479.7" y1="85.5" x2="482.5" y2="85.5" stroke="#444" stroke-width="0.9"/>
<text x="477.8" y="88.33" font-size="6.8" text-anchor="end" font-weight="normal" font-style="normal" fill="#111">60</text>
<line x1="479.7" y1="60.5" x2="482.5" y2="60.5" stroke="#444" stroke-width="0.9"/>
<text x="477.8" y="63.09" font-size="6.8" text-anchor="end" font-weight="normal" font-style="normal" fill="#111">80</text>
<line x1="479.7" y1="35.5" x2="482.5" y2="35.5" stroke="#444" stroke-width="0.9"/>
<text x="477.8" y="37.85" font-size="6.8" text-anchor="end" font-weight="normal" font-style="normal" fill="#111">100</text>
<line x1="480.9" y1="174.5" x2="482.5" y2="174.5" stroke="#444" stroke-width="0.9"/>
<line x1="480.9" y1="148.5" x2="482.5" y2="148.5" stroke="#444" stroke-width="0.9"/>
<line x1="480.9" y1="123.5" x2="482.5" y2="123.5" stroke="#444" stroke-width="0.9"/>
<line x1="480.9" y1="98.5" x2="482.5" y2="98.5" stroke="#444" stroke-width="0.9"/>
<line x1="480.9" y1="73.5" x2="482.5" y2="73.5" stroke="#444" stroke-width="0.9"/>
<line x1="480.9" y1="48.5" x2="482.5" y2="48.5" stroke="#444" stroke-width="0.9"/>
<line x1="480.9" y1="22.5" x2="482.5" y2="22.5" stroke="#444" stroke-width="0.9"/>
<line x1="482.5" y1="174.5" x2="482.5" y2="177.3" stroke="#444" stroke-width="0.9"/>
<text x="482.4" y="184.9" font-size="6.8" text-anchor="middle" font-weight="normal" font-style="normal" fill="#111">0</text>
<line x1="503.5" y1="174.5" x2="503.5" y2="177.3" stroke="#444" stroke-width="0.9"/>
<text x="503.31" y="184.9" font-size="6.8" text-anchor="middle" font-weight="normal" font-style="normal" fill="#111">20</text>
<line x1="524.5" y1="174.5" x2="524.5" y2="177.3" stroke="#444" stroke-width="0.9"/>
<text x="524.22" y="184.9" font-size="6.8" text-anchor="middle" font-weight="normal" font-style="normal" fill="#111">40</text>
<line x1="545.5" y1="174.5" x2="545.5" y2="177.3" stroke="#444" stroke-width="0.9"/>
<text x="545.13" y="184.9" font-size="6.8" text-anchor="middle" font-weight="normal" font-style="normal" fill="#111">60</text>
<line x1="566.5" y1="174.5" x2="566.5" y2="177.3" stroke="#444" stroke-width="0.9"/>
<text x="566.04" y="184.9" font-size="6.8" text-anchor="middle" font-weight="normal" font-style="normal" fill="#111">80</text>
<line x1="586.5" y1="174.5" x2="586.5" y2="177.3" stroke="#444" stroke-width="0.9"/>
<text x="586.96" y="184.9" font-size="6.8" text-anchor="middle" font-weight="normal" font-style="normal" fill="#111">100</text>
<line x1="607.5" y1="174.5" x2="607.5" y2="177.3" stroke="#444" stroke-width="0.9"/>
<text x="607.87" y="184.9" font-size="6.8" text-anchor="middle" font-weight="normal" font-style="normal" fill="#111">120</text>
<line x1="628.5" y1="174.5" x2="628.5" y2="177.3" stroke="#444" stroke-width="0.9"/>
<text x="628.78" y="184.9" font-size="6.8" text-anchor="middle" font-weight="normal" font-style="normal" fill="#111">140</text>
<line x1="649.5" y1="174.5" x2="649.5" y2="177.3" stroke="#444" stroke-width="0.9"/>
<text x="649.69" y="184.9" font-size="6.8" text-anchor="middle" font-weight="normal" font-style="normal" fill="#111">160</text>
<line x1="670.5" y1="174.5" x2="670.5" y2="177.3" stroke="#444" stroke-width="0.9"/>
<text x="670.6" y="184.9" font-size="6.8" text-anchor="middle" font-weight="normal" font-style="normal" fill="#111">180</text>
<line x1="492.5" y1="174.5" x2="492.5" y2="176.1" stroke="#444" stroke-width="0.9"/>
<line x1="513.5" y1="174.5" x2="513.5" y2="176.1" stroke="#444" stroke-width="0.9"/>
<line x1="534.5" y1="174.5" x2="534.5" y2="176.1" stroke="#444" stroke-width="0.9"/>
<line x1="555.5" y1="174.5" x2="555.5" y2="176.1" stroke="#444" stroke-width="0.9"/>
<line x1="576.5" y1="174.5" x2="576.5" y2="176.1" stroke="#444" stroke-width="0.9"/>
<line x1="597.5" y1="174.5" x2="597.5" y2="176.1" stroke="#444" stroke-width="0.9"/>
<line x1="618.5" y1="174.5" x2="618.5" y2="176.1" stroke="#444" stroke-width="0.9"/>
<line x1="639.5" y1="174.5" x2="639.5" y2="176.1" stroke="#444" stroke-width="0.9"/>
<line x1="660.5" y1="174.5" x2="660.5" y2="176.1" stroke="#444" stroke-width="0.9"/>
<text x="576.7" y="196.9" font-size="7.1" text-anchor="middle" font-weight="normal" font-style="normal" fill="#111">Ionic strength, mM</text>
<text x="462.6" y="98.2" font-size="7.4" text-anchor="middle" font-weight="normal" font-style="normal" fill="#111" transform="rotate(-90 462.6 98.2)">Relative activity, %</text>
<polyline points="499.13,59.38 525.27,35.4 551.41,73.26 577.55,147.72 603.68,156.55 629.82,156.55 655.96,161.6" fill="none" stroke="#3a3a3a" stroke-width="0.55"/>
<polyline points="499.13,45.5 525.27,35.4 551.41,101.02 577.55,148.98 603.68,157.81 629.82,157.81 655.96,161.6" fill="none" stroke="#3a3a3a" stroke-width="0.55"/>
<polyline points="499.13,35.4 525.27,53.07 551.41,112.38 577.55,148.98 603.68,156.55 629.82,157.81 655.96,161.6" fill="none" stroke="#3a3a3a" stroke-width="0.55"/>
<polyline points="499.13,35.4 525.27,41.71 551.41,103.55 577.55,150.24 603.68,157.81 629.82,161.6 655.96,161.6" fill="none" stroke="#3a3a3a" stroke-width="0.55"/>
<polyline points="499.13,35.4 525.27,59.38 551.41,82.09 577.55,150.24 603.68,159.08 629.82,161.6 655.96,161.6" fill="none" stroke="#3a3a3a" stroke-width="0.55"/>
<polyline points="499.13,35.4 525.27,60.64 551.41,126.26 577.55,151.5 603.68,159.08 629.82,161.6 655.96,161.6" fill="none" stroke="#3a3a3a" stroke-width="0.55"/>
<path d="M497.18,58.17H501.08L499.13,61.58Z" fill="#fff" stroke="#111" stroke-width="0.55"/>
<path d="M523.32,34.19H527.22L525.27,37.6Z" fill="#fff" stroke="#111" stroke-width="0.55"/>
<path d="M549.46,72.05H553.36L551.41,75.46Z" fill="#fff" stroke="#111" stroke-width="0.55"/>
<path d="M575.6,146.51H579.5L577.55,149.92Z" fill="#fff" stroke="#111" stroke-width="0.55"/>
<path d="M601.73,155.34H605.63L603.68,158.76Z" fill="#fff" stroke="#111" stroke-width="0.55"/>
<path d="M627.87,155.34H631.77L629.82,158.76Z" fill="#fff" stroke="#111" stroke-width="0.55"/>
<path d="M654.01,160.39H657.91L655.96,163.8Z" fill="#fff" stroke="#111" stroke-width="0.55"/>
<path d="M497.18,44.29H501.08L499.13,47.7Z" fill="#fff" stroke="#111" stroke-width="0.55"/>
<path d="M523.32,34.19H527.22L525.27,37.6Z" fill="#fff" stroke="#111" stroke-width="0.55"/>
<path d="M549.46,99.81H553.36L551.41,103.23Z" fill="#fff" stroke="#111" stroke-width="0.55"/>
<path d="M575.6,147.77H579.5L577.55,151.18Z" fill="#fff" stroke="#111" stroke-width="0.55"/>
<path d="M601.73,156.6H605.63L603.68,160.02Z" fill="#fff" stroke="#111" stroke-width="0.55"/>
<path d="M627.87,156.6H631.77L629.82,160.02Z" fill="#fff" stroke="#111" stroke-width="0.55"/>
<path d="M654.01,160.39H657.91L655.96,163.8Z" fill="#fff" stroke="#111" stroke-width="0.55"/>
<path d="M497.18,34.19H501.08L499.13,37.6Z" fill="#fff" stroke="#111" stroke-width="0.55"/>
<path d="M523.32,51.86H527.22L525.27,55.27Z" fill="#fff" stroke="#111" stroke-width="0.55"/>
<path d="M549.46,111.17H553.36L551.41,114.59Z" fill="#fff" stroke="#111" stroke-width="0.55"/>
<path d="M575.6,147.77H579.5L577.55,151.18Z" fill="#fff" stroke="#111" stroke-width="0.55"/>
<path d="M601.73,155.34H605.63L603.68,158.76Z" fill="#fff" stroke="#111" stroke-width="0.55"/>
<path d="M627.87,156.6H631.77L629.82,160.02Z" fill="#fff" stroke="#111" stroke-width="0.55"/>
<path d="M654.01,160.39H657.91L655.96,163.8Z" fill="#fff" stroke="#111" stroke-width="0.55"/>
<path d="M496.98,34.11H501.28L499.13,37.87Z" fill="#000"/>
<path d="M523.12,40.42H527.42L525.27,44.18Z" fill="#000"/>
<path d="M549.26,102.26H553.56L551.41,106.02Z" fill="#000"/>
<path d="M575.4,148.95H579.7L577.55,152.71Z" fill="#000"/>
<path d="M601.53,156.52H605.83L603.68,160.29Z" fill="#000"/>
<path d="M627.67,160.31H631.97L629.82,164.07Z" fill="#000"/>
<path d="M653.81,160.31H658.11L655.96,164.07Z" fill="#000"/>
<path d="M496.98,34.11H501.28L499.13,37.87Z" fill="#000"/>
<path d="M523.12,58.09H527.42L525.27,61.85Z" fill="#000"/>
<path d="M549.26,80.8H553.56L551.41,84.57Z" fill="#000"/>
<path d="M575.4,148.95H579.7L577.55,152.71Z" fill="#000"/>
<path d="M601.53,157.79H605.83L603.68,161.55Z" fill="#000"/>
<path d="M627.67,160.31H631.97L629.82,164.07Z" fill="#000"/>
<path d="M653.81,160.31H658.11L655.96,164.07Z" fill="#000"/>
<path d="M496.98,34.11H501.28L499.13,37.87Z" fill="#000"/>
<path d="M523.12,59.35H527.42L525.27,63.11Z" fill="#000"/>
<path d="M549.26,124.97H553.56L551.41,128.74Z" fill="#000"/>
<path d="M575.4,150.21H579.7L577.55,153.98Z" fill="#000"/>
<path d="M601.53,157.79H605.83L603.68,161.55Z" fill="#000"/>
<path d="M627.67,160.31H631.97L629.82,164.07Z" fill="#000"/>
<path d="M653.81,160.31H658.11L655.96,164.07Z" fill="#000"/>
<rect x="625.4" y="19.3" width="41.3" height="19" fill="#fff" stroke="#666" stroke-width="0.5"/>
<line x1="626.3" y1="24.7" x2="641.5" y2="24.7" stroke="#3a3a3a" stroke-width="0.5"/>
<path d="M632.15,23.49H636.05L634.1,26.9Z" fill="#fff" stroke="#111" stroke-width="0.55"/>
<text x="644.2" y="27.2" font-size="7.1" text-anchor="start" font-weight="normal" font-style="normal" fill="#111">mPLys</text>
<line x1="626.3" y1="33.1" x2="641.5" y2="33.1" stroke="#3a3a3a" stroke-width="0.5"/>
<path d="M631.95,31.81H636.25L634.1,35.57Z" fill="#000"/>
<text x="644.2" y="35.6" font-size="7.1" text-anchor="start" font-weight="normal" font-style="normal" fill="#111">PLys</text>
<line x1="35.5" y1="214.1" x2="35.5" y2="367" stroke="#444" stroke-width="1.0"/>
<line x1="34.5" y1="366.5" x2="224.2" y2="366.5" stroke="#444" stroke-width="1.0"/>
<line x1="32.7" y1="353.5" x2="35.5" y2="353.5" stroke="#444" stroke-width="0.9"/>
<text x="30.3" y="355.75" font-size="6.8" text-anchor="end" font-weight="normal" font-style="normal" fill="#111">0</text>
<line x1="32.7" y1="328.5" x2="35.5" y2="328.5" stroke="#444" stroke-width="0.9"/>
<text x="30.3" y="330.45" font-size="6.8" text-anchor="end" font-weight="normal" font-style="normal" fill="#111">20</text>
<line x1="32.7" y1="302.5" x2="35.5" y2="302.5" stroke="#444" stroke-width="0.9"/>
<text x="30.3" y="305.15" font-size="6.8" text-anchor="end" font-weight="normal" font-style="normal" fill="#111">40</text>
<line x1="32.7" y1="277.5" x2="35.5" y2="277.5" stroke="#444" stroke-width="0.9"/>
<text x="30.3" y="279.85" font-size="6.8" text-anchor="end" font-weight="normal" font-style="normal" fill="#111">60</text>
<line x1="32.7" y1="252.5" x2="35.5" y2="252.5" stroke="#444" stroke-width="0.9"/>
<text x="30.3" y="254.55" font-size="6.8" text-anchor="end" font-weight="normal" font-style="normal" fill="#111">80</text>
<line x1="32.7" y1="226.5" x2="35.5" y2="226.5" stroke="#444" stroke-width="0.9"/>
<text x="30.3" y="229.25" font-size="6.8" text-anchor="end" font-weight="normal" font-style="normal" fill="#111">100</text>
<line x1="33.9" y1="365.5" x2="35.5" y2="365.5" stroke="#444" stroke-width="0.9"/>
<line x1="33.9" y1="340.5" x2="35.5" y2="340.5" stroke="#444" stroke-width="0.9"/>
<line x1="33.9" y1="315.5" x2="35.5" y2="315.5" stroke="#444" stroke-width="0.9"/>
<line x1="33.9" y1="290.5" x2="35.5" y2="290.5" stroke="#444" stroke-width="0.9"/>
<line x1="33.9" y1="264.5" x2="35.5" y2="264.5" stroke="#444" stroke-width="0.9"/>
<line x1="33.9" y1="239.5" x2="35.5" y2="239.5" stroke="#444" stroke-width="0.9"/>
<line x1="33.9" y1="214.5" x2="35.5" y2="214.5" stroke="#444" stroke-width="0.9"/>
<line x1="51.5" y1="366.5" x2="51.5" y2="369.3" stroke="#444" stroke-width="0.9"/>
<text x="51.2" y="376.7" font-size="6.8" text-anchor="middle" font-weight="normal" font-style="normal" fill="#111">3</text>
<line x1="82.5" y1="366.5" x2="82.5" y2="369.3" stroke="#444" stroke-width="0.9"/>
<text x="82.6" y="376.7" font-size="6.8" text-anchor="middle" font-weight="normal" font-style="normal" fill="#111">4</text>
<line x1="114.5" y1="366.5" x2="114.5" y2="369.3" stroke="#444" stroke-width="0.9"/>
<text x="114" y="376.7" font-size="6.8" text-anchor="middle" font-weight="normal" font-style="normal" fill="#111">5</text>
<line x1="145.5" y1="366.5" x2="145.5" y2="369.3" stroke="#444" stroke-width="0.9"/>
<text x="145.4" y="376.7" font-size="6.8" text-anchor="middle" font-weight="normal" font-style="normal" fill="#111">6</text>
<line x1="176.5" y1="366.5" x2="176.5" y2="369.3" stroke="#444" stroke-width="0.9"/>
<text x="176.8" y="376.7" font-size="6.8" text-anchor="middle" font-weight="normal" font-style="normal" fill="#111">7</text>
<line x1="208.5" y1="366.5" x2="208.5" y2="369.3" stroke="#444" stroke-width="0.9"/>
<text x="208.2" y="376.7" font-size="6.8" text-anchor="middle" font-weight="normal" font-style="normal" fill="#111">8</text>
<line x1="35.5" y1="366.5" x2="35.5" y2="368.1" stroke="#444" stroke-width="0.9"/>
<line x1="66.5" y1="366.5" x2="66.5" y2="368.1" stroke="#444" stroke-width="0.9"/>
<line x1="98.5" y1="366.5" x2="98.5" y2="368.1" stroke="#444" stroke-width="0.9"/>
<line x1="129.5" y1="366.5" x2="129.5" y2="368.1" stroke="#444" stroke-width="0.9"/>
<line x1="161.5" y1="366.5" x2="161.5" y2="368.1" stroke="#444" stroke-width="0.9"/>
<line x1="192.5" y1="366.5" x2="192.5" y2="368.1" stroke="#444" stroke-width="0.9"/>
<line x1="223.5" y1="366.5" x2="223.5" y2="368.1" stroke="#444" stroke-width="0.9"/>
<text x="129.8" y="388.7" font-size="7.3" text-anchor="middle" font-weight="normal" font-style="normal" fill="#111">pH</text>
<text x="15.1" y="289.9" font-size="7.45" text-anchor="middle" font-weight="normal" font-style="normal" fill="#111" transform="rotate(-90 15.1 289.9)">Relative activity, %</text>
<polyline points="51.2,353.3 82.6,345.71 114,288.79 129.7,226.8 145.4,226.8 161.1,286.25 176.8,343.18 208.2,353.3" fill="none" stroke="#3a3a3a" stroke-width="0.55"/>
<polyline points="51.2,353.3 82.6,344.44 114,297.64 129.7,228.06 145.4,238.19 161.1,293.85 176.8,344.44 208.2,353.3" fill="none" stroke="#3a3a3a" stroke-width="0.55"/>
<polyline points="51.2,353.3 82.6,343.18 114,306.5 129.7,231.86 145.4,283.73 161.1,295.11 176.8,346.98 208.2,353.3" fill="none" stroke="#3a3a3a" stroke-width="0.55"/>
<polyline points="51.2,353.3 82.6,341.92 114,226.8 129.7,250.84 145.4,292.58 161.1,346.98 176.8,353.3 208.2,353.3" fill="none" stroke="#3a3a3a" stroke-width="0.55"/>
<polyline points="51.2,353.3 82.6,343.18 114,226.8 129.7,262.22 145.4,306.5 161.1,348.24 176.8,353.3 208.2,353.3" fill="none" stroke="#3a3a3a" stroke-width="0.55"/>
<polyline points="51.2,353.3 82.6,340.65 114,226.8 129.7,271.08 145.4,317.88 161.1,346.98 176.8,353.3 208.2,353.3" fill="none" stroke="#3a3a3a" stroke-width="0.55"/>
<path d="M49.25,352.09H53.15L51.2,355.5Z" fill="#fff" stroke="#111" stroke-width="0.55"/>
<path d="M80.65,344.5H84.55L82.6,347.91Z" fill="#fff" stroke="#111" stroke-width="0.55"/>
<path d="M112.05,287.58H115.95L114,290.99Z" fill="#fff" stroke="#111" stroke-width="0.55"/>
<path d="M127.75,225.59H131.65L129.7,229Z" fill="#fff" stroke="#111" stroke-width="0.55"/>
<path d="M143.45,225.59H147.35L145.4,229Z" fill="#fff" stroke="#111" stroke-width="0.55"/>
<path d="M159.15,285.05H163.05L161.1,288.46Z" fill="#fff" stroke="#111" stroke-width="0.55"/>
<path d="M174.85,341.97H178.75L176.8,345.38Z" fill="#fff" stroke="#111" stroke-width="0.55"/>
<path d="M206.25,352.09H210.15L208.2,355.5Z" fill="#fff" stroke="#111" stroke-width="0.55"/>
<path d="M49.25,352.09H53.15L51.2,355.5Z" fill="#fff" stroke="#111" stroke-width="0.55"/>
<path d="M80.65,343.24H84.55L82.6,346.65Z" fill="#fff" stroke="#111" stroke-width="0.55"/>
<path d="M112.05,296.43H115.95L114,299.84Z" fill="#fff" stroke="#111" stroke-width="0.55"/>
<path d="M127.75,226.86H131.65L129.7,230.27Z" fill="#fff" stroke="#111" stroke-width="0.55"/>
<path d="M143.45,236.98H147.35L145.4,240.39Z" fill="#fff" stroke="#111" stroke-width="0.55"/>
<path d="M159.15,292.64H163.05L161.1,296.05Z" fill="#fff" stroke="#111" stroke-width="0.55"/>
<path d="M174.85,343.24H178.75L176.8,346.65Z" fill="#fff" stroke="#111" stroke-width="0.55"/>
<path d="M206.25,352.09H210.15L208.2,355.5Z" fill="#fff" stroke="#111" stroke-width="0.55"/>
<path d="M49.25,352.09H53.15L51.2,355.5Z" fill="#fff" stroke="#111" stroke-width="0.55"/>
<path d="M80.65,341.97H84.55L82.6,345.38Z" fill="#fff" stroke="#111" stroke-width="0.55"/>
<path d="M112.05,305.29H115.95L114,308.7Z" fill="#fff" stroke="#111" stroke-width="0.55"/>
<path d="M127.75,230.65H131.65L129.7,234.06Z" fill="#fff" stroke="#111" stroke-width="0.55"/>
<path d="M143.45,282.52H147.35L145.4,285.93Z" fill="#fff" stroke="#111" stroke-width="0.55"/>
<path d="M159.15,293.9H163.05L161.1,297.31Z" fill="#fff" stroke="#111" stroke-width="0.55"/>
<path d="M174.85,345.77H178.75L176.8,349.18Z" fill="#fff" stroke="#111" stroke-width="0.55"/>
<path d="M206.25,352.09H210.15L208.2,355.5Z" fill="#fff" stroke="#111" stroke-width="0.55"/>
<path d="M49.05,352.01H53.35L51.2,355.77Z" fill="#000"/>
<path d="M80.45,340.62H84.75L82.6,344.39Z" fill="#000"/>
<path d="M111.85,225.51H116.15L114,229.27Z" fill="#000"/>
<path d="M127.55,249.55H131.85L129.7,253.31Z" fill="#000"/>
<path d="M143.25,291.29H147.55L145.4,295.05Z" fill="#000"/>
<path d="M158.95,345.69H163.25L161.1,349.45Z" fill="#000"/>
<path d="M174.65,352.01H178.95L176.8,355.77Z" fill="#000"/>
<path d="M206.05,352.01H210.35L208.2,355.77Z" fill="#000"/>
<path d="M49.05,352.01H53.35L51.2,355.77Z" fill="#000"/>
<path d="M80.45,341.89H84.75L82.6,345.65Z" fill="#000"/>
<path d="M111.85,225.51H116.15L114,229.27Z" fill="#000"/>
<path d="M127.55,260.93H131.85L129.7,264.69Z" fill="#000"/>
<path d="M143.25,305.2H147.55L145.4,308.97Z" fill="#000"/>
<path d="M158.95,346.95H163.25L161.1,350.71Z" fill="#000"/>
<path d="M174.65,352.01H178.95L176.8,355.77Z" fill="#000"/>
<path d="M206.05,352.01H210.35L208.2,355.77Z" fill="#000"/>
<path d="M49.05,352.01H53.35L51.2,355.77Z" fill="#000"/>
<path d="M80.45,339.36H84.75L82.6,343.12Z" fill="#000"/>
<path d="M111.85,225.51H116.15L114,229.27Z" fill="#000"/>
<path d="M127.55,269.79H131.85L129.7,273.55Z" fill="#000"/>
<path d="M143.25,316.59H147.55L145.4,320.35Z" fill="#000"/>
<path d="M158.95,345.69H163.25L161.1,349.45Z" fill="#000"/>
<path d="M174.65,352.01H178.95L176.8,355.77Z" fill="#000"/>
<path d="M206.05,352.01H210.35L208.2,355.77Z" fill="#000"/>
<rect x="176.3" y="212.3" width="42.2" height="18.3" fill="#fff" stroke="#666" stroke-width="0.5"/>
<line x1="177.8" y1="217.8" x2="193.7" y2="217.8" stroke="#3a3a3a" stroke-width="0.5"/>
<path d="M183.65,216.59H187.55L185.6,220Z" fill="#fff" stroke="#111" stroke-width="0.55"/>
<text x="196" y="220.1" font-size="7" text-anchor="start" font-weight="normal" font-style="normal" fill="#111">mPLys</text>
<line x1="177.8" y1="226.1" x2="193.7" y2="226.1" stroke="#3a3a3a" stroke-width="0.5"/>
<path d="M183.45,224.81H187.75L185.6,228.57Z" fill="#000"/>
<text x="196" y="228.4" font-size="7" text-anchor="start" font-weight="normal" font-style="normal" fill="#111">PLys</text>
<line x1="261.5" y1="226.2" x2="261.5" y2="367" stroke="#444" stroke-width="1.0"/>
<line x1="260.5" y1="366.5" x2="435.6" y2="366.5" stroke="#444" stroke-width="1.0"/>
<line x1="258.7" y1="360.5" x2="261.5" y2="360.5" stroke="#444" stroke-width="0.9"/>
<text x="256.9" y="362.23" font-size="6.2" text-anchor="end" font-weight="normal" font-style="normal" fill="#111">0</text>
<line x1="258.7" y1="346.5" x2="261.5" y2="346.5" stroke="#444" stroke-width="0.9"/>
<text x="256.9" y="348.85" font-size="6.2" text-anchor="end" font-weight="normal" font-style="normal" fill="#111">5</text>
<line x1="258.7" y1="333.5" x2="261.5" y2="333.5" stroke="#444" stroke-width="0.9"/>
<text x="256.9" y="335.47" font-size="6.2" text-anchor="end" font-weight="normal" font-style="normal" fill="#111">10</text>
<line x1="258.7" y1="319.5" x2="261.5" y2="319.5" stroke="#444" stroke-width="0.9"/>
<text x="256.9" y="322.09" font-size="6.2" text-anchor="end" font-weight="normal" font-style="normal" fill="#111">15</text>
<line x1="258.7" y1="306.5" x2="261.5" y2="306.5" stroke="#444" stroke-width="0.9"/>
<text x="256.9" y="308.71" font-size="6.2" text-anchor="end" font-weight="normal" font-style="normal" fill="#111">20</text>
<line x1="258.7" y1="293.5" x2="261.5" y2="293.5" stroke="#444" stroke-width="0.9"/>
<text x="256.9" y="295.33" font-size="6.2" text-anchor="end" font-weight="normal" font-style="normal" fill="#111">25</text>
<line x1="258.7" y1="279.5" x2="261.5" y2="279.5" stroke="#444" stroke-width="0.9"/>
<text x="256.9" y="281.95" font-size="6.2" text-anchor="end" font-weight="normal" font-style="normal" fill="#111">30</text>
<line x1="258.7" y1="266.5" x2="261.5" y2="266.5" stroke="#444" stroke-width="0.9"/>
<text x="256.9" y="268.57" font-size="6.2" text-anchor="end" font-weight="normal" font-style="normal" fill="#111">35</text>
<line x1="258.7" y1="252.5" x2="261.5" y2="252.5" stroke="#444" stroke-width="0.9"/>
<text x="256.9" y="255.19" font-size="6.2" text-anchor="end" font-weight="normal" font-style="normal" fill="#111">40</text>
<line x1="258.7" y1="239.5" x2="261.5" y2="239.5" stroke="#444" stroke-width="0.9"/>
<text x="256.9" y="241.81" font-size="6.2" text-anchor="end" font-weight="normal" font-style="normal" fill="#111">45</text>
<line x1="258.7" y1="226.5" x2="261.5" y2="226.5" stroke="#444" stroke-width="0.9"/>
<text x="256.9" y="228.43" font-size="6.2" text-anchor="end" font-weight="normal" font-style="normal" fill="#111">50</text>
<line x1="259.9" y1="366.5" x2="261.5" y2="366.5" stroke="#444" stroke-width="0.9"/>
<line x1="259.9" y1="353.5" x2="261.5" y2="353.5" stroke="#444" stroke-width="0.9"/>
<line x1="259.9" y1="339.5" x2="261.5" y2="339.5" stroke="#444" stroke-width="0.9"/>
<line x1="259.9" y1="326.5" x2="261.5" y2="326.5" stroke="#444" stroke-width="0.9"/>
<line x1="259.9" y1="313.5" x2="261.5" y2="313.5" stroke="#444" stroke-width="0.9"/>
<line x1="259.9" y1="299.5" x2="261.5" y2="299.5" stroke="#444" stroke-width="0.9"/>
<line x1="259.9" y1="286.5" x2="261.5" y2="286.5" stroke="#444" stroke-width="0.9"/>
<line x1="259.9" y1="273.5" x2="261.5" y2="273.5" stroke="#444" stroke-width="0.9"/>
<line x1="259.9" y1="259.5" x2="261.5" y2="259.5" stroke="#444" stroke-width="0.9"/>
<line x1="259.9" y1="246.5" x2="261.5" y2="246.5" stroke="#444" stroke-width="0.9"/>
<line x1="259.9" y1="232.5" x2="261.5" y2="232.5" stroke="#444" stroke-width="0.9"/>
<line x1="276.5" y1="366.5" x2="276.5" y2="369.3" stroke="#444" stroke-width="0.9"/>
<text x="276" y="376.2" font-size="6.2" text-anchor="middle" font-weight="normal" font-style="normal" fill="#111">20</text>
<line x1="305.5" y1="366.5" x2="305.5" y2="369.3" stroke="#444" stroke-width="0.9"/>
<text x="305.1" y="376.2" font-size="6.2" text-anchor="middle" font-weight="normal" font-style="normal" fill="#111">30</text>
<line x1="334.5" y1="366.5" x2="334.5" y2="369.3" stroke="#444" stroke-width="0.9"/>
<text x="334.2" y="376.2" font-size="6.2" text-anchor="middle" font-weight="normal" font-style="normal" fill="#111">40</text>
<line x1="363.5" y1="366.5" x2="363.5" y2="369.3" stroke="#444" stroke-width="0.9"/>
<text x="363.3" y="376.2" font-size="6.2" text-anchor="middle" font-weight="normal" font-style="normal" fill="#111">50</text>
<line x1="392.5" y1="366.5" x2="392.5" y2="369.3" stroke="#444" stroke-width="0.9"/>
<text x="392.4" y="376.2" font-size="6.2" text-anchor="middle" font-weight="normal" font-style="normal" fill="#111">60</text>
<line x1="421.5" y1="366.5" x2="421.5" y2="369.3" stroke="#444" stroke-width="0.9"/>
<text x="421.5" y="376.2" font-size="6.2" text-anchor="middle" font-weight="normal" font-style="normal" fill="#111">70</text>
<line x1="261.5" y1="366.5" x2="261.5" y2="368.1" stroke="#444" stroke-width="0.9"/>
<line x1="290.5" y1="366.5" x2="290.5" y2="368.1" stroke="#444" stroke-width="0.9"/>
<line x1="319.5" y1="366.5" x2="319.5" y2="368.1" stroke="#444" stroke-width="0.9"/>
<line x1="348.5" y1="366.5" x2="348.5" y2="368.1" stroke="#444" stroke-width="0.9"/>
<line x1="377.5" y1="366.5" x2="377.5" y2="368.1" stroke="#444" stroke-width="0.9"/>
<line x1="406.5" y1="366.5" x2="406.5" y2="368.1" stroke="#444" stroke-width="0.9"/>
<line x1="436.5" y1="366.5" x2="436.5" y2="368.1" stroke="#444" stroke-width="0.9"/>
<text x="349" y="387.6" font-size="7.5" text-anchor="middle" font-weight="normal" font-style="normal" fill="#111">Temperature, &#176;C</text>
<text x="244.4" y="296" font-size="7.5" text-anchor="middle" font-weight="normal" font-style="normal" fill="#111" transform="rotate(-90 244.4 296)">Specific activity, U/pmol</text>
<polyline points="276,282.4 305.1,278.11 334.2,286.95 363.3,311.83 392.4,356.52 421.5,348.49" fill="none" stroke="#3a3a3a" stroke-width="0.55"/>
<polyline points="276,289.62 305.1,285.61 334.2,299.79 363.3,354.11 392.4,358.39 421.5,356.52" fill="none" stroke="#3a3a3a" stroke-width="0.55"/>
<polyline points="276,305.68 305.1,285.61 334.2,327.09 363.3,353.31 392.4,357.32 421.5,359.46" fill="none" stroke="#3a3a3a" stroke-width="0.55"/>
<polyline points="276,339.39 305.1,333.51 334.2,274.37 363.3,279.72 392.4,273.3 421.5,258.31" fill="none" stroke="#3a3a3a" stroke-width="0.55"/>
<polyline points="276,333.24 305.1,316.38 334.2,293.37 363.3,292.03 392.4,260.99 421.5,266.34" fill="none" stroke="#3a3a3a" stroke-width="0.55"/>
<polyline points="276,334.58 305.1,318.52 334.2,298.45 363.3,280.79 392.4,260.99 421.5,303.8" fill="none" stroke="#3a3a3a" stroke-width="0.55"/>
<polyline points="276,354.92 305.1,353.31 334.2,349.83 363.3,345.01 392.4,343.68 421.5,332.97" fill="none" stroke="#3a3a3a" stroke-width="0.55"/>
<polyline points="276,355.72 305.1,353.85 334.2,351.17 363.3,347.96 392.4,342.61 421.5,336.99" fill="none" stroke="#3a3a3a" stroke-width="0.55"/>
<polyline points="276,355.99 305.1,354.11 334.2,351.44 363.3,350.1 392.4,343.14 421.5,342.61" fill="none" stroke="#3a3a3a" stroke-width="0.55"/>
<rect x="274.55" y="353.47" width="2.9" height="2.9" fill="#000"/>
<rect x="303.65" y="351.86" width="2.9" height="2.9" fill="#000"/>
<rect x="332.75" y="348.38" width="2.9" height="2.9" fill="#000"/>
<rect x="361.85" y="343.56" width="2.9" height="2.9" fill="#000"/>
<rect x="390.95" y="342.23" width="2.9" height="2.9" fill="#000"/>
<rect x="420.05" y="331.52" width="2.9" height="2.9" fill="#000"/>
<rect x="274.55" y="354.27" width="2.9" height="2.9" fill="#000"/>
<rect x="303.65" y="352.4" width="2.9" height="2.9" fill="#000"/>
<rect x="332.75" y="349.72" width="2.9" height="2.9" fill="#000"/>
<rect x="361.85" y="346.51" width="2.9" height="2.9" fill="#000"/>
<rect x="390.95" y="341.16" width="2.9" height="2.9" fill="#000"/>
<rect x="420.05" y="335.54" width="2.9" height="2.9" fill="#000"/>
<rect x="274.55" y="354.54" width="2.9" height="2.9" fill="#000"/>
<rect x="303.65" y="352.66" width="2.9" height="2.9" fill="#000"/>
<rect x="332.75" y="349.99" width="2.9" height="2.9" fill="#000"/>
<rect x="361.85" y="348.65" width="2.9" height="2.9" fill="#000"/>
<rect x="390.95" y="341.69" width="2.9" height="2.9" fill="#000"/>
<rect x="420.05" y="341.16" width="2.9" height="2.9" fill="#000"/>
<path d="M273.85,338.1H278.15L276,341.87Z" fill="#000"/>
<path d="M302.95,332.22H307.25L305.1,335.98Z" fill="#000"/>
<path d="M332.05,273.08H336.35L334.2,276.84Z" fill="#000"/>
<path d="M361.15,278.43H365.45L363.3,282.19Z" fill="#000"/>
<path d="M390.25,272.01H394.55L392.4,275.77Z" fill="#000"/>
<path d="M419.35,257.02H423.65L421.5,260.78Z" fill="#000"/>
<path d="M273.85,331.95H278.15L276,335.71Z" fill="#000"/>
<path d="M302.95,315.09H307.25L305.1,318.85Z" fill="#000"/>
<path d="M332.05,292.08H336.35L334.2,295.84Z" fill="#000"/>
<path d="M361.15,290.74H365.45L363.3,294.5Z" fill="#000"/>
<path d="M390.25,259.7H394.55L392.4,263.46Z" fill="#000"/>
<path d="M419.35,265.05H423.65L421.5,268.81Z" fill="#000"/>
<path d="M273.85,333.29H278.15L276,337.05Z" fill="#000"/>
<path d="M302.95,317.23H307.25L305.1,320.99Z" fill="#000"/>
<path d="M332.05,297.16H336.35L334.2,300.92Z" fill="#000"/>
<path d="M361.15,279.5H365.45L363.3,283.26Z" fill="#000"/>
<path d="M390.25,259.7H394.55L392.4,263.46Z" fill="#000"/>
<path d="M419.35,302.51H423.65L421.5,306.28Z" fill="#000"/>
<path d="M274.05,281.19H277.95L276,284.6Z" fill="#fff" stroke="#111" stroke-width="0.55"/>
<path d="M303.15,276.91H307.05L305.1,280.32Z" fill="#fff" stroke="#111" stroke-width="0.55"/>
<path d="M332.25,285.74H336.15L334.2,289.15Z" fill="#fff" stroke="#111" stroke-width="0.55"/>
<path d="M361.35,310.62H365.25L363.3,314.04Z" fill="#fff" stroke="#111" stroke-width="0.55"/>
<path d="M390.45,355.31H394.35L392.4,358.72Z" fill="#fff" stroke="#111" stroke-width="0.55"/>
<path d="M419.55,347.28H423.45L421.5,350.7Z" fill="#fff" stroke="#111" stroke-width="0.55"/>
<path d="M274.05,288.41H277.95L276,291.82Z" fill="#fff" stroke="#111" stroke-width="0.55"/>
<path d="M303.15,284.4H307.05L305.1,287.81Z" fill="#fff" stroke="#111" stroke-width="0.55"/>
<path d="M332.25,298.58H336.15L334.2,301.99Z" fill="#fff" stroke="#111" stroke-width="0.55"/>
<path d="M361.35,352.9H365.25L363.3,356.32Z" fill="#fff" stroke="#111" stroke-width="0.55"/>
<path d="M390.45,357.19H394.35L392.4,360.6Z" fill="#fff" stroke="#111" stroke-width="0.55"/>
<path d="M419.55,355.31H423.45L421.5,358.72Z" fill="#fff" stroke="#111" stroke-width="0.55"/>
<path d="M274.05,304.47H277.95L276,307.88Z" fill="#fff" stroke="#111" stroke-width="0.55"/>
<path d="M303.15,284.4H307.05L305.1,287.81Z" fill="#fff" stroke="#111" stroke-width="0.55"/>
<path d="M332.25,325.88H336.15L334.2,329.29Z" fill="#fff" stroke="#111" stroke-width="0.55"/>
<path d="M361.35,352.1H365.25L363.3,355.51Z" fill="#fff" stroke="#111" stroke-width="0.55"/>
<path d="M390.45,356.12H394.35L392.4,359.53Z" fill="#fff" stroke="#111" stroke-width="0.55"/>
<path d="M419.55,358.26H423.45L421.5,361.67Z" fill="#fff" stroke="#111" stroke-width="0.55"/>
<rect x="387.4" y="223.4" width="42.5" height="27.9" fill="#fff" stroke="#666" stroke-width="0.5"/>
<line x1="388.6" y1="228.6" x2="404.6" y2="228.6" stroke="#3a3a3a" stroke-width="0.5"/>
<path d="M394.65,227.39H398.55L396.6,230.8Z" fill="#fff" stroke="#111" stroke-width="0.55"/>
<text x="406.8" y="231.1" font-size="7.1" text-anchor="start" font-weight="normal" font-style="normal" fill="#111">mPLys</text>
<line x1="388.6" y1="237.35" x2="404.6" y2="237.35" stroke="#3a3a3a" stroke-width="0.5"/>
<path d="M394.45,236.06H398.75L396.6,239.82Z" fill="#000"/>
<text x="406.8" y="239.85" font-size="7.1" text-anchor="start" font-weight="normal" font-style="normal" fill="#111">PLys</text>
<line x1="388.6" y1="246.1" x2="404.6" y2="246.1" stroke="#3a3a3a" stroke-width="0.5"/>
<rect x="395.15" y="244.65" width="2.9" height="2.9" fill="#000"/>
<text x="406.8" y="248.6" font-size="7.1" text-anchor="start" font-weight="normal" font-style="normal" fill="#111">HEWL</text>
<line x1="483" y1="226.3" x2="483" y2="366" stroke="#777" stroke-width="1.0"/>
<line x1="482" y1="365.5" x2="683.3" y2="365.5" stroke="#444" stroke-width="1.0"/>
<line x1="480.2" y1="352.5" x2="483" y2="352.5" stroke="#444" stroke-width="0.9"/>
<text x="478.1" y="354.66" font-size="6.55" text-anchor="end" font-weight="normal" font-style="normal" fill="#111">0</text>
<line x1="480.2" y1="327.5" x2="483" y2="327.5" stroke="#444" stroke-width="0.9"/>
<text x="478.1" y="329.58" font-size="6.55" text-anchor="end" font-weight="normal" font-style="normal" fill="#111">10000</text>
<line x1="480.2" y1="302.5" x2="483" y2="302.5" stroke="#444" stroke-width="0.9"/>
<text x="478.1" y="304.5" font-size="6.55" text-anchor="end" font-weight="normal" font-style="normal" fill="#111">20000</text>
<line x1="480.2" y1="277.5" x2="483" y2="277.5" stroke="#444" stroke-width="0.9"/>
<text x="478.1" y="279.42" font-size="6.55" text-anchor="end" font-weight="normal" font-style="normal" fill="#111">30000</text>
<line x1="480.2" y1="251.5" x2="483" y2="251.5" stroke="#444" stroke-width="0.9"/>
<text x="478.1" y="254.34" font-size="6.55" text-anchor="end" font-weight="normal" font-style="normal" fill="#111">40000</text>
<line x1="480.2" y1="226.5" x2="483" y2="226.5" stroke="#444" stroke-width="0.9"/>
<text x="478.1" y="229.26" font-size="6.55" text-anchor="end" font-weight="normal" font-style="normal" fill="#111">50000</text>
<line x1="481.4" y1="364.5" x2="483" y2="364.5" stroke="#444" stroke-width="0.9"/>
<line x1="481.4" y1="339.5" x2="483" y2="339.5" stroke="#444" stroke-width="0.9"/>
<line x1="481.4" y1="314.5" x2="483" y2="314.5" stroke="#444" stroke-width="0.9"/>
<line x1="481.4" y1="289.5" x2="483" y2="289.5" stroke="#444" stroke-width="0.9"/>
<line x1="481.4" y1="264.5" x2="483" y2="264.5" stroke="#444" stroke-width="0.9"/>
<line x1="481.4" y1="239.5" x2="483" y2="239.5" stroke="#444" stroke-width="0.9"/>
<line x1="483.5" y1="365.5" x2="483.5" y2="368.3" stroke="#444" stroke-width="0.9"/>
<text x="483" y="374.8" font-size="6.8" text-anchor="middle" font-weight="normal" font-style="normal" fill="#111">0.01</text>
<line x1="557.5" y1="365.5" x2="557.5" y2="368.3" stroke="#444" stroke-width="0.9"/>
<text x="557.4" y="374.8" font-size="6.8" text-anchor="middle" font-weight="normal" font-style="normal" fill="#111">0.1</text>
<line x1="631.5" y1="365.5" x2="631.5" y2="368.3" stroke="#444" stroke-width="0.9"/>
<text x="631.8" y="374.8" font-size="6.8" text-anchor="middle" font-weight="normal" font-style="normal" fill="#111">1</text>
<line x1="505.5" y1="365.5" x2="505.5" y2="367.1" stroke="#444" stroke-width="0.9"/>
<line x1="518.5" y1="365.5" x2="518.5" y2="367.1" stroke="#444" stroke-width="0.9"/>
<line x1="527.5" y1="365.5" x2="527.5" y2="367.1" stroke="#444" stroke-width="0.9"/>
<line x1="535.5" y1="365.5" x2="535.5" y2="367.1" stroke="#444" stroke-width="0.9"/>
<line x1="540.5" y1="365.5" x2="540.5" y2="367.1" stroke="#444" stroke-width="0.9"/>
<line x1="545.5" y1="365.5" x2="545.5" y2="367.1" stroke="#444" stroke-width="0.9"/>
<line x1="550.5" y1="365.5" x2="550.5" y2="367.1" stroke="#444" stroke-width="0.9"/>
<line x1="553.5" y1="365.5" x2="553.5" y2="367.1" stroke="#444" stroke-width="0.9"/>
<line x1="579.5" y1="365.5" x2="579.5" y2="367.1" stroke="#444" stroke-width="0.9"/>
<line x1="592.5" y1="365.5" x2="592.5" y2="367.1" stroke="#444" stroke-width="0.9"/>
<line x1="602.5" y1="365.5" x2="602.5" y2="367.1" stroke="#444" stroke-width="0.9"/>
<line x1="609.5" y1="365.5" x2="609.5" y2="367.1" stroke="#444" stroke-width="0.9"/>
<line x1="615.5" y1="365.5" x2="615.5" y2="367.1" stroke="#444" stroke-width="0.9"/>
<line x1="620.5" y1="365.5" x2="620.5" y2="367.1" stroke="#444" stroke-width="0.9"/>
<line x1="624.5" y1="365.5" x2="624.5" y2="367.1" stroke="#444" stroke-width="0.9"/>
<line x1="628.5" y1="365.5" x2="628.5" y2="367.1" stroke="#444" stroke-width="0.9"/>
<line x1="654.5" y1="365.5" x2="654.5" y2="367.1" stroke="#444" stroke-width="0.9"/>
<line x1="667.5" y1="365.5" x2="667.5" y2="367.1" stroke="#444" stroke-width="0.9"/>
<line x1="676.5" y1="365.5" x2="676.5" y2="367.1" stroke="#444" stroke-width="0.9"/>
<line x1="683.5" y1="365.5" x2="683.5" y2="367.1" stroke="#444" stroke-width="0.9"/>
<text x="583.6" y="385.7" font-size="6.65" text-anchor="middle" font-weight="normal" font-style="normal" fill="#111">Concentration, &#956;M</text>
<text x="452.8" y="296" font-size="6.6" text-anchor="middle" font-weight="normal" font-style="normal" fill="#111" transform="rotate(-90 452.8 296)">Fluorescence,AU</text>
<text x="491.5" y="236.2" font-size="7.8" text-anchor="start" font-weight="normal" font-style="italic" fill="#111">Bacillus subtilis</text>
<polyline points="483,346.72 484.1,346.52 485.2,346.31 486.29,346.09 487.39,345.87 488.49,345.63 489.59,345.39 490.69,345.14 491.79,344.89 492.88,344.62 493.98,344.35 495.08,344.06 496.18,343.77 497.28,343.47 498.37,343.15 499.47,342.83 500.57,342.5 501.67,342.15 502.77,341.79 503.87,341.42 504.96,341.04 506.06,340.65 507.16,340.24 508.26,339.82 509.36,339.39 510.46,338.94 511.55,338.48 512.65,338.01 513.75,337.51 514.85,337.01 515.95,336.48 517.04,335.94 518.14,335.38 519.24,334.81 520.34,334.21 521.44,333.6 522.54,332.97 523.63,332.32 524.73,331.65 525.83,330.95 526.93,330.24 528.03,329.51 529.12,328.75 530.22,327.97 531.32,327.17 532.42,326.35 533.52,325.5 534.62,324.63 535.71,323.73 536.81,322.81 537.91,321.86 539.01,320.89 540.11,319.89 541.2,318.86 542.3,317.81 543.4,316.73 544.5,315.63 545.6,314.5 546.7,313.34 547.79,312.16 548.89,310.94 549.99,309.71 551.09,308.44 552.19,307.15 553.29,305.84 554.38,304.5 555.48,303.14 556.58,301.75 557.68,300.34 558.78,298.91 559.87,297.47 560.97,296 562.07,294.52 563.17,293.02 564.27,291.51 565.37,289.98 566.46,288.45 567.56,286.91 568.66,285.37 569.76,283.82 570.86,282.28 571.95,280.73 573.05,279.2 574.15,277.67 575.25,276.16 576.35,274.66 577.45,273.18 578.54,271.73 579.64,270.3 580.74,268.89 581.84,267.52 582.94,266.18 584.03,264.88 585.13,263.62 586.23,262.41 587.33,261.23 588.43,260.11 589.53,259.03 590.62,258 591.72,257.02 592.82,256.1 593.92,255.23 595.02,254.41 596.11,253.64 597.21,252.93 598.31,252.26 599.41,251.65 600.51,251.09 601.61,250.57 602.7,250.1 603.8,249.68 604.9,249.29 606,248.95 607.1,248.64 608.2,248.37 609.29,248.13 610.39,247.92 611.49,247.73 612.59,247.57 613.69,247.44 614.78,247.32 615.88,247.22 616.98,247.13 618.08,247.06 619.18,247 620.28,246.95 621.37,246.91 622.47,246.88 623.57,246.86 624.67,246.84 625.77,246.82 626.86,246.81 627.96,246.8 629.06,246.79 630.16,246.78 631.26,246.78 632.36,246.77 633.45,246.77 634.55,246.77 635.65,246.77 636.75,246.77 637.85,246.77 638.94,246.77 640.04,246.77 641.14,246.77 642.24,246.77 643.34,246.77 644.44,246.77 645.53,246.77 646.63,246.77 647.73,246.77 648.83,246.77 649.93,246.77 651.03,246.77 652.12,246.77 653.22,246.77 654.32,246.77 655.42,246.77 656.52,246.77 657.61,246.77 658.71,246.77" fill="none" stroke="#9a9a9a" stroke-width="0.7"/>
<polyline points="483,348.53 484.22,348.48 485.45,348.42 486.67,348.36 487.9,348.31 489.12,348.24 490.35,348.18 491.57,348.11 492.8,348.04 494.02,347.96 495.25,347.89 496.47,347.8 497.69,347.72 498.92,347.63 500.14,347.53 501.37,347.43 502.59,347.33 503.82,347.22 505.04,347.1 506.27,346.98 507.49,346.85 508.72,346.72 509.94,346.58 511.16,346.43 512.39,346.27 513.61,346.1 514.84,345.93 516.06,345.74 517.29,345.55 518.51,345.34 519.74,345.12 520.96,344.89 522.19,344.65 523.41,344.39 524.64,344.11 525.86,343.82 527.08,343.51 528.31,343.18 529.53,342.83 530.76,342.46 531.98,342.07 533.21,341.65 534.43,341.2 535.66,340.72 536.88,340.21 538.11,339.67 539.33,339.09 540.55,338.47 541.78,337.81 543,337.1 544.23,336.35 545.45,335.54 546.68,334.67 547.9,333.75 549.13,332.76 550.35,331.71 551.58,330.58 552.8,329.38 554.02,328.09 555.25,326.72 556.47,325.27 557.7,323.72 558.92,322.08 560.15,320.34 561.37,318.51 562.6,316.58 563.82,314.56 565.05,312.46 566.27,310.27 567.49,308.01 568.72,305.68 569.94,303.31 571.17,300.91 572.39,298.49 573.62,296.08 574.84,293.7 576.07,291.37 577.29,289.1 578.52,286.93 579.74,284.86 580.97,282.92 582.19,281.12 583.41,279.46 584.64,277.96 585.86,276.61 587.09,275.41 588.31,274.36 589.54,273.44 590.76,272.66 591.99,272 593.21,271.45 594.44,270.99 595.66,270.61 596.88,270.3 598.11,270.06 599.33,269.87 600.56,269.71 601.78,269.6 603.01,269.51 604.23,269.44 605.46,269.39 606.68,269.35 607.91,269.33 609.13,269.31 610.35,269.3 611.58,269.29 612.8,269.28 614.03,269.28 615.25,269.27 616.48,269.27 617.7,269.27 618.93,269.27 620.15,269.27 621.38,269.27 622.6,269.27 623.82,269.27 625.05,269.27 626.27,269.27 627.5,269.27 628.72,269.27 629.95,269.27 631.17,269.27 632.4,269.27 633.62,269.27 634.85,269.27 636.07,269.27 637.29,269.27 638.52,269.27 639.74,269.27 640.97,269.27 642.19,269.27 643.42,269.27 644.64,269.27 645.87,269.27 647.09,269.27 648.32,269.27 649.54,269.27 650.77,269.27 651.99,269.27 653.21,269.27 654.44,269.27 655.66,269.27 656.89,269.27 658.11,269.27 659.34,269.27 660.56,269.27 661.79,269.27 663.01,269.27 664.24,269.27 665.46,269.27 666.68,269.27 667.91,269.27 669.13,269.27 670.36,269.27 671.58,269.27 672.81,269.27 674.03,269.27 675.26,269.27 676.48,269.27 677.71,269.27 678.93,269.27" fill="none" stroke="#9a9a9a" stroke-width="0.7"/>
<polyline points="483,346.24 484.16,346.23 485.32,346.22 486.49,346.2 487.65,346.19 488.81,346.17 489.97,346.16 491.13,346.14 492.29,346.12 493.46,346.1 494.62,346.08 495.78,346.06 496.94,346.04 498.1,346.02 499.26,346 500.43,345.97 501.59,345.95 502.75,345.92 503.91,345.89 505.07,345.87 506.23,345.84 507.4,345.81 508.56,345.77 509.72,345.74 510.88,345.7 512.04,345.67 513.2,345.63 514.37,345.59 515.53,345.55 516.69,345.5 517.85,345.46 519.01,345.41 520.17,345.36 521.34,345.3 522.5,345.25 523.66,345.19 524.82,345.12 525.98,345.06 527.15,344.99 528.31,344.92 529.47,344.84 530.63,344.76 531.79,344.68 532.95,344.59 534.12,344.5 535.28,344.4 536.44,344.29 537.6,344.19 538.76,344.07 539.92,343.95 541.09,343.82 542.25,343.68 543.41,343.53 544.57,343.38 545.73,343.21 546.89,343.04 548.06,342.86 549.22,342.66 550.38,342.45 551.54,342.23 552.7,341.99 553.86,341.74 555.03,341.47 556.19,341.18 557.35,340.87 558.51,340.54 559.67,340.19 560.83,339.81 562,339.4 563.16,338.97 564.32,338.51 565.48,338.01 566.64,337.47 567.81,336.9 568.97,336.28 570.13,335.62 571.29,334.91 572.45,334.15 573.61,333.34 574.78,332.46 575.94,331.52 577.1,330.52 578.26,329.45 579.42,328.31 580.58,327.1 581.75,325.82 582.91,324.46 584.07,323.03 585.23,321.53 586.39,319.96 587.55,318.33 588.72,316.65 589.88,314.92 591.04,313.17 592.2,311.39 593.36,309.61 594.52,307.85 595.69,306.11 596.85,304.42 598.01,302.79 599.17,301.23 600.33,299.77 601.49,298.4 602.66,297.15 603.82,296 604.98,294.97 606.14,294.06 607.3,293.25 608.47,292.56 609.63,291.96 610.79,291.45 611.95,291.02 613.11,290.66 614.27,290.37 615.44,290.13 616.6,289.94 617.76,289.79 618.92,289.67 620.08,289.57 621.24,289.5 622.41,289.45 623.57,289.41 624.73,289.38 625.89,289.35 627.05,289.34 628.21,289.33 629.38,289.32 630.54,289.31 631.7,289.31 632.86,289.31 634.02,289.3 635.18,289.3 636.35,289.3 637.51,289.3 638.67,289.3 639.83,289.3 640.99,289.3 642.15,289.3 643.32,289.3 644.48,289.3 645.64,289.3 646.8,289.3 647.96,289.3 649.13,289.3 650.29,289.3 651.45,289.3 652.61,289.3 653.77,289.3 654.93,289.3 656.1,289.3 657.26,289.3 658.42,289.3 659.58,289.3 660.74,289.3 661.9,289.3 663.07,289.3 664.23,289.3 665.39,289.3 666.55,289.3 667.71,289.3 668.87,289.3" fill="none" stroke="#9a9a9a" stroke-width="0.7"/>
<polyline points="483,340.85 484.02,340.76 485.04,340.67 486.06,340.58 487.08,340.48 488.1,340.38 489.12,340.28 490.14,340.18 491.16,340.07 492.18,339.96 493.2,339.84 494.22,339.73 495.24,339.61 496.26,339.48 497.28,339.35 498.3,339.22 499.32,339.09 500.34,338.95 501.36,338.81 502.38,338.66 503.4,338.51 504.42,338.36 505.44,338.2 506.46,338.03 507.48,337.87 508.5,337.69 509.51,337.52 510.53,337.33 511.55,337.15 512.57,336.96 513.59,336.76 514.61,336.56 515.63,336.35 516.65,336.14 517.67,335.93 518.69,335.7 519.71,335.47 520.73,335.24 521.75,335 522.77,334.76 523.79,334.51 524.81,334.25 525.83,333.99 526.85,333.72 527.87,333.44 528.89,333.16 529.91,332.88 530.93,332.58 531.95,332.28 532.97,331.98 533.99,331.66 535.01,331.34 536.03,331.02 537.05,330.69 538.07,330.35 539.09,330.01 540.11,329.65 541.13,329.3 542.15,328.93 543.17,328.56 544.19,328.19 545.21,327.81 546.23,327.42 547.25,327.03 548.27,326.63 549.29,326.22 550.31,325.81 551.33,325.4 552.35,324.97 553.37,324.55 554.39,324.12 555.41,323.68 556.43,323.24 557.45,322.8 558.47,322.36 559.49,321.91 560.51,321.45 561.52,321 562.54,320.54 563.56,320.08 564.58,319.62 565.6,319.16 566.62,318.7 567.64,318.23 568.66,317.77 569.68,317.31 570.7,316.85 571.72,316.39 572.74,315.93 573.76,315.48 574.78,315.03 575.8,314.58 576.82,314.14 577.84,313.7 578.86,313.27 579.88,312.84 580.9,312.42 581.92,312.01 582.94,311.6 583.96,311.21 584.98,310.82 586,310.44 587.02,310.07 588.04,309.71 589.06,309.36 590.08,309.02 591.1,308.69 592.12,308.37 593.14,308.07 594.16,307.78 595.18,307.49 596.2,307.22 597.22,306.97 598.24,306.72 599.26,306.49 600.28,306.27 601.3,306.06 602.32,305.86 603.34,305.68 604.36,305.5 605.38,305.34 606.4,305.19 607.42,305.05 608.44,304.92 609.46,304.8 610.48,304.69 611.5,304.6 612.51,304.5 613.53,304.42 614.55,304.35 615.57,304.28 616.59,304.22 617.61,304.17 618.63,304.12 619.65,304.08 620.67,304.04 621.69,304.01 622.71,303.98 623.73,303.96 624.75,303.94 625.77,303.92 626.79,303.9 627.81,303.89 628.83,303.88 629.85,303.87 630.87,303.86 631.89,303.86 632.91,303.85 633.93,303.85 634.95,303.84 635.97,303.84 636.99,303.84 638.01,303.84 639.03,303.84 640.05,303.84 641.07,303.83 642.09,303.83 643.11,303.83 644.13,303.83 645.15,303.83 646.17,303.83" fill="none" stroke="#9a9a9a" stroke-width="0.7"/>
<path d="M533.05,343.33L536.95,347.23M533.05,347.23L536.95,343.33" stroke="#777" stroke-width="0.6" fill="none"/>
<path d="M555.45,343.33L559.35,347.23M555.45,347.23L559.35,343.33" stroke="#777" stroke-width="0.6" fill="none"/>
<path d="M577.85,342.83L581.75,346.73M577.85,346.73L581.75,342.83" stroke="#777" stroke-width="0.6" fill="none"/>
<path d="M599.09,343.58L602.99,347.48M599.09,347.48L602.99,343.58" stroke="#777" stroke-width="0.6" fill="none"/>
<path d="M621.4,344.58L625.3,348.48M621.4,348.48L625.3,344.58" stroke="#777" stroke-width="0.6" fill="none"/>
<path d="M644.22,343.58L648.12,347.48M644.22,347.48L648.12,343.58" stroke="#777" stroke-width="0.6" fill="none"/>
<path d="M666.72,344.08L670.62,347.98M666.72,347.98L670.62,344.08" stroke="#777" stroke-width="0.6" fill="none"/>
<circle cx="483" cy="345.53" r="1.75" fill="#000"/>
<circle cx="535" cy="344.4" r="1.75" fill="#000"/>
<circle cx="557.4" cy="341.59" r="1.75" fill="#000"/>
<circle cx="579.8" cy="328.37" r="1.75" fill="#000"/>
<circle cx="601.04" cy="302.64" r="1.75" fill="#000"/>
<circle cx="623.35" cy="293.61" r="1.75" fill="#000"/>
<circle cx="646.17" cy="287.34" r="1.75" fill="#000"/>
<circle cx="668.67" cy="288.1" r="1.75" fill="#000"/>
<rect x="481.55" y="344.58" width="2.9" height="2.9" fill="#000"/>
<rect x="503.95" y="345.08" width="2.9" height="2.9" fill="#000"/>
<rect x="517.05" y="343.83" width="2.9" height="2.9" fill="#000"/>
<rect x="543.96" y="340.57" width="2.9" height="2.9" fill="#000"/>
<rect x="563.93" y="307.71" width="2.9" height="2.9" fill="#000"/>
<rect x="587.56" y="277.62" width="2.9" height="2.9" fill="#000"/>
<rect x="609.84" y="271.85" width="2.9" height="2.9" fill="#000"/>
<rect x="631.93" y="261.31" width="2.9" height="2.9" fill="#000"/>
<rect x="654.78" y="268.34" width="2.9" height="2.9" fill="#000"/>
<rect x="676.95" y="267.08" width="2.9" height="2.9" fill="#000"/>
<path d="M503.45,340.81H507.35L505.4,344.22Z" fill="#fff" stroke="#111" stroke-width="0.55"/>
<path d="M525.84,333.79H529.74L527.79,337.2Z" fill="#fff" stroke="#111" stroke-width="0.55"/>
<path d="M543.93,308.45H547.83L545.88,311.87Z" fill="#fff" stroke="#111" stroke-width="0.55"/>
<path d="M565.86,282.62H569.76L567.81,286.04Z" fill="#fff" stroke="#111" stroke-width="0.55"/>
<path d="M589.74,266.2H593.64L591.69,269.61Z" fill="#fff" stroke="#111" stroke-width="0.55"/>
<path d="M612.08,251.37H615.98L614.03,254.79Z" fill="#fff" stroke="#111" stroke-width="0.55"/>
<path d="M634.37,242.75H638.27L636.32,246.16Z" fill="#fff" stroke="#111" stroke-width="0.55"/>
<path d="M656.62,244.5H660.52L658.57,247.91Z" fill="#fff" stroke="#111" stroke-width="0.55"/>
<path d="M480.85,340H485.15L483,343.76Z" fill="#000"/>
<path d="M503.25,336.99H507.55L505.4,340.75Z" fill="#000"/>
<path d="M532.85,330.39H537.15L535,334.16Z" fill="#000"/>
<path d="M555.25,321.27H559.55L557.4,325.03Z" fill="#000"/>
<path d="M575.99,313.06H580.29L578.14,316.83Z" fill="#000"/>
<path d="M598.89,307.12H603.19L601.04,310.88Z" fill="#000"/>
<path d="M621.2,299.45H625.5L623.35,303.21Z" fill="#000"/>
<path d="M644.02,304.11H648.32L646.17,307.87Z" fill="#000"/>
<rect x="493" y="240.6" width="38.7" height="41.5" fill="#fff" stroke="#666" stroke-width="0.5"/>
<path d="M499.25,244.01H503.55L501.4,247.77Z" fill="#000"/>
<text x="510" y="247.7" font-size="6.6" text-anchor="start" font-weight="normal" font-style="normal" fill="#111">PLys</text>
<path d="M499.45,252.17H503.35L501.4,255.58Z" fill="#fff" stroke="#111" stroke-width="0.55"/>
<text x="510" y="255.78" font-size="6.6" text-anchor="start" font-weight="normal" font-style="normal" fill="#111">mPLys</text>
<rect x="499.95" y="260.01" width="2.9" height="2.9" fill="#000"/>
<text x="510" y="263.86" font-size="6.6" text-anchor="start" font-weight="normal" font-style="normal" fill="#111">HEWL</text>
<circle cx="501.4" cy="269.54" r="1.75" fill="#000"/>
<text x="510" y="271.94" font-size="6.6" text-anchor="start" font-weight="normal" font-style="normal" fill="#111">Mellitin</text>
<path d="M499.45,275.67L503.35,279.57M499.45,279.57L503.35,275.67" stroke="#777" stroke-width="0.6" fill="none"/>
<text x="510" y="280.02" font-size="6.6" text-anchor="start" font-weight="normal" font-style="normal" fill="#111">Buffer</text>
<line x1="35.5" y1="428.3" x2="35.5" y2="575" stroke="#5a5a5a" stroke-width="1.0"/>
<line x1="34.5" y1="574.5" x2="224.2" y2="574.5" stroke="#444" stroke-width="1.0"/>
<line x1="32.7" y1="561.5" x2="35.5" y2="561.5" stroke="#444" stroke-width="0.9"/>
<text x="31" y="563.45" font-size="6.8" text-anchor="end" font-weight="normal" font-style="normal" fill="#111">0</text>
<line x1="32.7" y1="534.5" x2="35.5" y2="534.5" stroke="#444" stroke-width="0.9"/>
<text x="31" y="536.91" font-size="6.8" text-anchor="end" font-weight="normal" font-style="normal" fill="#111">10000</text>
<line x1="32.7" y1="507.5" x2="35.5" y2="507.5" stroke="#444" stroke-width="0.9"/>
<text x="31" y="510.37" font-size="6.8" text-anchor="end" font-weight="normal" font-style="normal" fill="#111">20000</text>
<line x1="32.7" y1="481.5" x2="35.5" y2="481.5" stroke="#444" stroke-width="0.9"/>
<text x="31" y="483.83" font-size="6.8" text-anchor="end" font-weight="normal" font-style="normal" fill="#111">30000</text>
<line x1="32.7" y1="454.5" x2="35.5" y2="454.5" stroke="#444" stroke-width="0.9"/>
<text x="31" y="457.29" font-size="6.8" text-anchor="end" font-weight="normal" font-style="normal" fill="#111">40000</text>
<line x1="32.7" y1="428.5" x2="35.5" y2="428.5" stroke="#444" stroke-width="0.9"/>
<text x="31" y="430.75" font-size="6.8" text-anchor="end" font-weight="normal" font-style="normal" fill="#111">50000</text>
<line x1="33.9" y1="574.5" x2="35.5" y2="574.5" stroke="#444" stroke-width="0.9"/>
<line x1="33.9" y1="547.5" x2="35.5" y2="547.5" stroke="#444" stroke-width="0.9"/>
<line x1="33.9" y1="521.5" x2="35.5" y2="521.5" stroke="#444" stroke-width="0.9"/>
<line x1="33.9" y1="494.5" x2="35.5" y2="494.5" stroke="#444" stroke-width="0.9"/>
<line x1="33.9" y1="468.5" x2="35.5" y2="468.5" stroke="#444" stroke-width="0.9"/>
<line x1="33.9" y1="441.5" x2="35.5" y2="441.5" stroke="#444" stroke-width="0.9"/>
<line x1="35.5" y1="574.5" x2="35.5" y2="577.3" stroke="#444" stroke-width="0.9"/>
<text x="35.4" y="584.2" font-size="6.8" text-anchor="middle" font-weight="normal" font-style="normal" fill="#111">0.01</text>
<line x1="92.5" y1="574.5" x2="92.5" y2="577.3" stroke="#444" stroke-width="0.9"/>
<text x="92.73" y="584.2" font-size="6.8" text-anchor="middle" font-weight="normal" font-style="normal" fill="#111">0.1</text>
<line x1="150.5" y1="574.5" x2="150.5" y2="577.3" stroke="#444" stroke-width="0.9"/>
<text x="150.07" y="584.2" font-size="6.8" text-anchor="middle" font-weight="normal" font-style="normal" fill="#111">1</text>
<line x1="207.5" y1="574.5" x2="207.5" y2="577.3" stroke="#444" stroke-width="0.9"/>
<text x="207.4" y="584.2" font-size="6.8" text-anchor="middle" font-weight="normal" font-style="normal" fill="#111">10</text>
<line x1="52.5" y1="574.5" x2="52.5" y2="576.1" stroke="#444" stroke-width="0.9"/>
<line x1="62.5" y1="574.5" x2="62.5" y2="576.1" stroke="#444" stroke-width="0.9"/>
<line x1="69.5" y1="574.5" x2="69.5" y2="576.1" stroke="#444" stroke-width="0.9"/>
<line x1="75.5" y1="574.5" x2="75.5" y2="576.1" stroke="#444" stroke-width="0.9"/>
<line x1="80.5" y1="574.5" x2="80.5" y2="576.1" stroke="#444" stroke-width="0.9"/>
<line x1="83.5" y1="574.5" x2="83.5" y2="576.1" stroke="#444" stroke-width="0.9"/>
<line x1="87.5" y1="574.5" x2="87.5" y2="576.1" stroke="#444" stroke-width="0.9"/>
<line x1="90.5" y1="574.5" x2="90.5" y2="576.1" stroke="#444" stroke-width="0.9"/>
<line x1="109.5" y1="574.5" x2="109.5" y2="576.1" stroke="#444" stroke-width="0.9"/>
<line x1="120.5" y1="574.5" x2="120.5" y2="576.1" stroke="#444" stroke-width="0.9"/>
<line x1="127.5" y1="574.5" x2="127.5" y2="576.1" stroke="#444" stroke-width="0.9"/>
<line x1="132.5" y1="574.5" x2="132.5" y2="576.1" stroke="#444" stroke-width="0.9"/>
<line x1="137.5" y1="574.5" x2="137.5" y2="576.1" stroke="#444" stroke-width="0.9"/>
<line x1="141.5" y1="574.5" x2="141.5" y2="576.1" stroke="#444" stroke-width="0.9"/>
<line x1="144.5" y1="574.5" x2="144.5" y2="576.1" stroke="#444" stroke-width="0.9"/>
<line x1="147.5" y1="574.5" x2="147.5" y2="576.1" stroke="#444" stroke-width="0.9"/>
<line x1="167.5" y1="574.5" x2="167.5" y2="576.1" stroke="#444" stroke-width="0.9"/>
<line x1="177.5" y1="574.5" x2="177.5" y2="576.1" stroke="#444" stroke-width="0.9"/>
<line x1="184.5" y1="574.5" x2="184.5" y2="576.1" stroke="#444" stroke-width="0.9"/>
<line x1="190.5" y1="574.5" x2="190.5" y2="576.1" stroke="#444" stroke-width="0.9"/>
<line x1="194.5" y1="574.5" x2="194.5" y2="576.1" stroke="#444" stroke-width="0.9"/>
<line x1="198.5" y1="574.5" x2="198.5" y2="576.1" stroke="#444" stroke-width="0.9"/>
<line x1="201.5" y1="574.5" x2="201.5" y2="576.1" stroke="#444" stroke-width="0.9"/>
<line x1="204.5" y1="574.5" x2="204.5" y2="576.1" stroke="#444" stroke-width="0.9"/>
<line x1="224.5" y1="574.5" x2="224.5" y2="576.1" stroke="#444" stroke-width="0.9"/>
<text x="129.6" y="594.8" font-size="6.65" text-anchor="middle" font-weight="normal" font-style="normal" fill="#111">Concentration, &#956;M</text>
<text x="6.6" y="501.3" font-size="6.45" text-anchor="middle" font-weight="normal" font-style="normal" fill="#111" transform="rotate(-90 6.6 501.3)">Fluorescence, AU</text>
<text x="45.6" y="437.8" font-size="8" text-anchor="start" font-weight="normal" font-style="normal" fill="#111"><tspan font-style="italic">Escherichia coli</tspan> D31</text>
<polyline points="35.4,550.78 35.82,550.78 36.24,550.78 36.66,550.78 37.08,550.77 37.5,550.77 37.91,550.77 38.33,550.77 38.75,550.77 39.17,550.77 39.59,550.77 40.01,550.77 40.43,550.77 40.85,550.77 41.27,550.77 41.69,550.77 42.11,550.77 42.53,550.77 42.94,550.77 43.36,550.77 43.78,550.77 44.2,550.77 44.62,550.77 45.04,550.77 45.46,550.77 45.88,550.77 46.3,550.77 46.72,550.77 47.14,550.77 47.55,550.77 47.97,550.77 48.39,550.77 48.81,550.77 49.23,550.77 49.65,550.77 50.07,550.77 50.49,550.77 50.91,550.77 51.33,550.77 51.75,550.77 52.17,550.77 52.58,550.77 53,550.77 53.42,550.77 53.84,550.77 54.26,550.77 54.68,550.77 55.1,550.77 55.52,550.77 55.94,550.77 56.36,550.77 56.78,550.77 57.19,550.77 57.61,550.77 58.03,550.77 58.45,550.77 58.87,550.77 59.29,550.77 59.71,550.77 60.13,550.77 60.55,550.77 60.97,550.77 61.39,550.77 61.81,550.77 62.22,550.77 62.64,550.76 63.06,550.76 63.48,550.76 63.9,550.76 64.32,550.76 64.74,550.76 65.16,550.76 65.58,550.76 66,550.76 66.42,550.76 66.83,550.76 67.25,550.76 67.67,550.76 68.09,550.76 68.51,550.76 68.93,550.76 69.35,550.76 69.77,550.76 70.19,550.75 70.61,550.75 71.03,550.75 71.45,550.75 71.86,550.75 72.28,550.75 72.7,550.75 73.12,550.75 73.54,550.75 73.96,550.74 74.38,550.74 74.8,550.74 75.22,550.74 75.64,550.74 76.06,550.74 76.47,550.73 76.89,550.73 77.31,550.73 77.73,550.73 78.15,550.73 78.57,550.72 78.99,550.72 79.41,550.72 79.83,550.72 80.25,550.71 80.67,550.71 81.09,550.71 81.5,550.7 81.92,550.7 82.34,550.69 82.76,550.69 83.18,550.68 83.6,550.68 84.02,550.67 84.44,550.67 84.86,550.66 85.28,550.65 85.7,550.65 86.11,550.64 86.53,550.63 86.95,550.62 87.37,550.61 87.79,550.6 88.21,550.59 88.63,550.57 89.05,550.56 89.47,550.54 89.89,550.53 90.31,550.51 90.73,550.49 91.14,550.47 91.56,550.44 91.98,550.42 92.4,550.39 92.82,550.36 93.24,550.32 93.66,550.28 94.08,550.24 94.5,550.2 94.92,550.15 95.34,550.09 95.75,550.03 96.17,549.96 96.59,549.88 97.01,549.8 97.43,549.71 97.85,549.6 98.27,549.49 98.69,549.36 99.11,549.21 99.53,549.05 99.95,548.87 100.37,548.66 100.78,548.43 101.2,548.18 101.62,547.89 102.04,547.56 102.46,547.19 102.88,546.77 103.3,546.3 103.72,545.77 104.14,545.16 104.56,544.48 104.98,543.71 105.39,542.84 105.81,541.85 106.23,540.73 106.65,539.48 107.07,538.06 107.49,536.47 107.91,534.69 108.33,532.7 108.75,530.5 109.17,528.07 109.59,525.4 110.01,522.5 110.42,519.36 110.84,516.01 111.26,512.46 111.68,508.75 112.1,504.92 112.52,501.02 112.94,497.1 113.36,493.23 113.78,489.45 114.2,485.83 114.62,482.4 115.03,479.21 115.45,476.29 115.87,473.63 116.29,471.27 116.71,469.18 117.13,467.35 117.55,465.78 117.97,464.43 118.39,463.29 118.81,462.34 119.23,461.54 119.65,460.88 120.06,460.34 120.48,459.89 120.9,459.53 121.32,459.24 121.74,459.01 122.16,458.82 122.58,458.68 123,458.56 123.42,458.47 123.84,458.39 124.26,458.34 124.67,458.3 125.09,458.26 125.51,458.24 125.93,458.22 126.35,458.2 126.77,458.19 127.19,458.18 127.61,458.18 128.03,458.17 128.45,458.17 128.87,458.16 129.29,458.16 129.7,458.16 130.12,458.16 130.54,458.16 130.96,458.16 131.38,458.16 131.8,458.16 132.22,458.16 132.64,458.16 133.06,458.16 133.48,458.16 133.9,458.16 134.31,458.16 134.73,458.16 135.15,458.16 135.57,458.16 135.99,458.16 136.41,458.16 136.83,458.16 137.25,458.16 137.67,458.16 138.09,458.16 138.51,458.16 138.93,458.16 139.34,458.16 139.76,458.16 140.18,458.16 140.6,458.16 141.02,458.16 141.44,458.16 141.86,458.16 142.28,458.16 142.7,458.16 143.12,458.16 143.54,458.16 143.95,458.16 144.37,458.16 144.79,458.16 145.21,458.16 145.63,458.16 146.05,458.16 146.47,458.16 146.89,458.16 147.31,458.16 147.73,458.16 148.15,458.16 148.57,458.16 148.98,458.16 149.4,458.16 149.82,458.16 150.24,458.16 150.66,458.16 151.08,458.16 151.5,458.16 151.92,458.16 152.34,458.16 152.76,458.16 153.18,458.16 153.59,458.16 154.01,458.16 154.43,458.16 154.85,458.16 155.27,458.16 155.69,458.16 156.11,458.16 156.53,458.16 156.95,458.16 157.37,458.16 157.79,458.16 158.21,458.16 158.62,458.16 159.04,458.16 159.46,458.16 159.88,458.16 160.3,458.16 160.72,458.16 161.14,458.16" fill="none" stroke="#9a9a9a" stroke-width="0.7"/>
<path d="M50.71,550.03L54.61,553.93M50.71,553.93L54.61,550.03" stroke="#777" stroke-width="0.6" fill="none"/>
<path d="M73.52,549.76L77.42,553.66M73.52,553.66L77.42,549.76" stroke="#777" stroke-width="0.6" fill="none"/>
<path d="M90.78,548.7L94.68,552.6M90.78,552.6L94.68,548.7" stroke="#777" stroke-width="0.6" fill="none"/>
<path d="M184.26,545.78L188.16,549.68M184.26,549.68L188.16,545.78" stroke="#777" stroke-width="0.6" fill="none"/>
<path d="M218.37,551.22L222.27,555.12M218.37,555.12L222.27,551.22" stroke="#777" stroke-width="0.6" fill="none"/>
<rect x="33.95" y="549.73" width="2.9" height="2.9" fill="#000"/>
<rect x="51.21" y="549.46" width="2.9" height="2.9" fill="#000"/>
<rect x="61.3" y="549.2" width="2.9" height="2.9" fill="#000"/>
<rect x="82.04" y="550.15" width="2.9" height="2.9" fill="#000"/>
<rect x="98.01" y="549.33" width="2.9" height="2.9" fill="#000"/>
<rect x="116.2" y="548.93" width="2.9" height="2.9" fill="#000"/>
<rect x="133.73" y="549.33" width="2.9" height="2.9" fill="#000"/>
<rect x="150.3" y="549.33" width="2.9" height="2.9" fill="#000"/>
<rect x="167.56" y="549.33" width="2.9" height="2.9" fill="#000"/>
<rect x="184.76" y="549.33" width="2.9" height="2.9" fill="#000"/>
<rect x="201.9" y="549.33" width="2.9" height="2.9" fill="#000"/>
<rect x="218.87" y="549.33" width="2.9" height="2.9" fill="#000"/>
<path d="M50.71,549.44H54.61L52.66,552.85Z" fill="#fff" stroke="#111" stroke-width="0.55"/>
<path d="M67.97,550.5H71.87L69.92,553.91Z" fill="#fff" stroke="#111" stroke-width="0.55"/>
<path d="M81.9,550.77H85.8L83.85,554.18Z" fill="#fff" stroke="#111" stroke-width="0.55"/>
<path d="M99.16,551.56H103.06L101.11,554.98Z" fill="#fff" stroke="#111" stroke-width="0.55"/>
<path d="M117.29,552.09H121.19L119.24,555.51Z" fill="#fff" stroke="#111" stroke-width="0.55"/>
<path d="M134.55,552.09H138.45L136.5,555.51Z" fill="#fff" stroke="#111" stroke-width="0.55"/>
<path d="M151.16,553.16H155.06L153.11,556.57Z" fill="#fff" stroke="#111" stroke-width="0.55"/>
<path d="M169.29,553.95H173.19L171.24,557.36Z" fill="#fff" stroke="#111" stroke-width="0.55"/>
<path d="M186.11,553.16H190.01L188.06,556.57Z" fill="#fff" stroke="#111" stroke-width="0.55"/>
<path d="M33.25,550.16H37.55L35.4,553.92Z" fill="#000"/>
<path d="M50.51,551.22H54.81L52.66,554.98Z" fill="#000"/>
<path d="M73.32,550.95H77.62L75.47,554.71Z" fill="#000"/>
<path d="M90.58,551.75H94.88L92.73,555.51Z" fill="#000"/>
<path d="M107.84,550.79H112.14L109.99,554.56Z" fill="#000"/>
<path d="M124.15,550.79H128.45L126.3,554.56Z" fill="#000"/>
<path d="M141.41,552.89H145.71L143.56,556.65Z" fill="#000"/>
<path d="M158.83,554.8H163.13L160.98,558.56Z" fill="#000"/>
<circle cx="35.4" cy="550.91" r="1.75" fill="#000"/>
<circle cx="52.66" cy="552.24" r="1.75" fill="#000"/>
<circle cx="75.47" cy="551.45" r="1.75" fill="#000"/>
<circle cx="92.73" cy="548.37" r="1.75" fill="#000"/>
<circle cx="109.99" cy="521.46" r="1.75" fill="#000"/>
<circle cx="126.3" cy="443.16" r="1.75" fill="#000"/>
<circle cx="143.56" cy="456.17" r="1.75" fill="#000"/>
<circle cx="161.14" cy="475.81" r="1.75" fill="#000"/>
<rect x="178" y="428.3" width="38.6" height="41.3" fill="#fff" stroke="#666" stroke-width="0.5"/>
<path d="M183.85,432.11H188.15L186,435.87Z" fill="#000"/>
<text x="195.5" y="435.7" font-size="6.4" text-anchor="start" font-weight="normal" font-style="normal" fill="#111">PLys</text>
<path d="M184.05,440.12H187.95L186,443.53Z" fill="#fff" stroke="#111" stroke-width="0.55"/>
<text x="195.5" y="443.63" font-size="6.4" text-anchor="start" font-weight="normal" font-style="normal" fill="#111">mPLys</text>
<path d="M184.05,447.31L187.95,451.21M184.05,451.21L187.95,447.31" stroke="#777" stroke-width="0.6" fill="none"/>
<text x="195.5" y="451.56" font-size="6.4" text-anchor="start" font-weight="normal" font-style="normal" fill="#111">Buffer</text>
<rect x="184.55" y="455.74" width="2.9" height="2.9" fill="#000"/>
<text x="195.5" y="459.49" font-size="6.4" text-anchor="start" font-weight="normal" font-style="normal" fill="#111">HEWL</text>
<circle cx="186" cy="465.12" r="1.75" fill="#000"/>
<text x="195.5" y="467.42" font-size="6.4" text-anchor="start" font-weight="normal" font-style="normal" fill="#111">Mellitin</text>
</svg></body></html>
